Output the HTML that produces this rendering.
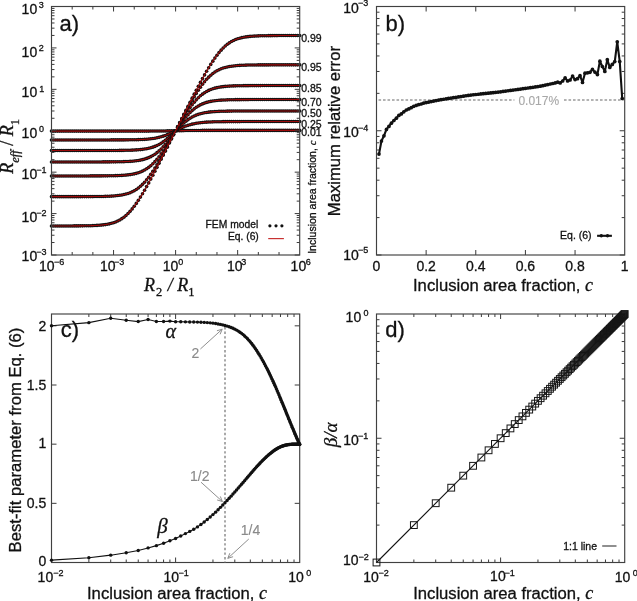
<!DOCTYPE html>
<html><head><meta charset="utf-8"><style>
html,body{margin:0;padding:0;background:#fff;width:637px;height:601px;overflow:hidden}
svg{will-change:transform}
text{stroke:#111;stroke-width:0.3px}
svg{display:block}
</style></head><body>
<svg width="637" height="601" viewBox="0 0 637 601">
<rect width="637" height="601" fill="#fff"/>
<g fill="#111">
<circle cx="51.50" cy="131.11" r="1.8"/>
<circle cx="53.57" cy="131.11" r="1.8"/>
<circle cx="55.64" cy="131.11" r="1.8"/>
<circle cx="57.70" cy="131.11" r="1.8"/>
<circle cx="59.77" cy="131.11" r="1.8"/>
<circle cx="61.84" cy="131.11" r="1.8"/>
<circle cx="63.91" cy="131.11" r="1.8"/>
<circle cx="65.98" cy="131.11" r="1.8"/>
<circle cx="68.05" cy="131.11" r="1.8"/>
<circle cx="70.12" cy="131.11" r="1.8"/>
<circle cx="72.18" cy="131.11" r="1.8"/>
<circle cx="74.25" cy="131.11" r="1.8"/>
<circle cx="76.32" cy="131.11" r="1.8"/>
<circle cx="78.39" cy="131.11" r="1.8"/>
<circle cx="80.46" cy="131.11" r="1.8"/>
<circle cx="82.53" cy="131.11" r="1.8"/>
<circle cx="84.59" cy="131.11" r="1.8"/>
<circle cx="86.66" cy="131.11" r="1.8"/>
<circle cx="88.73" cy="131.11" r="1.8"/>
<circle cx="90.80" cy="131.11" r="1.8"/>
<circle cx="92.87" cy="131.11" r="1.8"/>
<circle cx="94.94" cy="131.11" r="1.8"/>
<circle cx="97.00" cy="131.11" r="1.8"/>
<circle cx="99.07" cy="131.11" r="1.8"/>
<circle cx="101.14" cy="131.11" r="1.8"/>
<circle cx="103.21" cy="131.11" r="1.8"/>
<circle cx="105.28" cy="131.11" r="1.8"/>
<circle cx="107.34" cy="131.11" r="1.8"/>
<circle cx="109.41" cy="131.11" r="1.8"/>
<circle cx="111.48" cy="131.11" r="1.8"/>
<circle cx="113.55" cy="131.11" r="1.8"/>
<circle cx="115.62" cy="131.11" r="1.8"/>
<circle cx="117.69" cy="131.11" r="1.8"/>
<circle cx="119.75" cy="131.11" r="1.8"/>
<circle cx="121.82" cy="131.11" r="1.8"/>
<circle cx="123.89" cy="131.11" r="1.8"/>
<circle cx="125.96" cy="131.11" r="1.8"/>
<circle cx="128.03" cy="131.11" r="1.8"/>
<circle cx="130.10" cy="131.11" r="1.8"/>
<circle cx="132.16" cy="131.10" r="1.8"/>
<circle cx="134.23" cy="131.10" r="1.8"/>
<circle cx="136.30" cy="131.10" r="1.8"/>
<circle cx="138.37" cy="131.10" r="1.8"/>
<circle cx="140.44" cy="131.10" r="1.8"/>
<circle cx="142.51" cy="131.09" r="1.8"/>
<circle cx="144.57" cy="131.09" r="1.8"/>
<circle cx="146.64" cy="131.08" r="1.8"/>
<circle cx="148.71" cy="131.08" r="1.8"/>
<circle cx="150.78" cy="131.07" r="1.8"/>
<circle cx="152.85" cy="131.06" r="1.8"/>
<circle cx="154.92" cy="131.04" r="1.8"/>
<circle cx="156.99" cy="131.03" r="1.8"/>
<circle cx="159.05" cy="131.01" r="1.8"/>
<circle cx="161.12" cy="130.99" r="1.8"/>
<circle cx="163.19" cy="130.97" r="1.8"/>
<circle cx="165.26" cy="130.94" r="1.8"/>
<circle cx="167.33" cy="130.90" r="1.8"/>
<circle cx="169.39" cy="130.87" r="1.8"/>
<circle cx="171.46" cy="130.83" r="1.8"/>
<circle cx="173.53" cy="130.79" r="1.8"/>
<circle cx="175.60" cy="130.75" r="1.8"/>
<circle cx="177.67" cy="130.71" r="1.8"/>
<circle cx="179.74" cy="130.67" r="1.8"/>
<circle cx="181.81" cy="130.63" r="1.8"/>
<circle cx="183.87" cy="130.60" r="1.8"/>
<circle cx="185.94" cy="130.56" r="1.8"/>
<circle cx="188.01" cy="130.53" r="1.8"/>
<circle cx="190.08" cy="130.51" r="1.8"/>
<circle cx="192.15" cy="130.49" r="1.8"/>
<circle cx="194.22" cy="130.47" r="1.8"/>
<circle cx="196.28" cy="130.46" r="1.8"/>
<circle cx="198.35" cy="130.44" r="1.8"/>
<circle cx="200.42" cy="130.43" r="1.8"/>
<circle cx="202.49" cy="130.42" r="1.8"/>
<circle cx="204.56" cy="130.42" r="1.8"/>
<circle cx="206.62" cy="130.41" r="1.8"/>
<circle cx="208.69" cy="130.41" r="1.8"/>
<circle cx="210.76" cy="130.40" r="1.8"/>
<circle cx="212.83" cy="130.40" r="1.8"/>
<circle cx="214.90" cy="130.40" r="1.8"/>
<circle cx="216.97" cy="130.40" r="1.8"/>
<circle cx="219.03" cy="130.40" r="1.8"/>
<circle cx="221.10" cy="130.39" r="1.8"/>
<circle cx="223.17" cy="130.39" r="1.8"/>
<circle cx="225.24" cy="130.39" r="1.8"/>
<circle cx="227.31" cy="130.39" r="1.8"/>
<circle cx="229.38" cy="130.39" r="1.8"/>
<circle cx="231.45" cy="130.39" r="1.8"/>
<circle cx="233.51" cy="130.39" r="1.8"/>
<circle cx="235.58" cy="130.39" r="1.8"/>
<circle cx="237.65" cy="130.39" r="1.8"/>
<circle cx="239.72" cy="130.39" r="1.8"/>
<circle cx="241.79" cy="130.39" r="1.8"/>
<circle cx="243.85" cy="130.39" r="1.8"/>
<circle cx="245.92" cy="130.39" r="1.8"/>
<circle cx="247.99" cy="130.39" r="1.8"/>
<circle cx="250.06" cy="130.39" r="1.8"/>
<circle cx="252.13" cy="130.39" r="1.8"/>
<circle cx="254.20" cy="130.39" r="1.8"/>
<circle cx="256.26" cy="130.39" r="1.8"/>
<circle cx="258.33" cy="130.39" r="1.8"/>
<circle cx="260.40" cy="130.39" r="1.8"/>
<circle cx="262.47" cy="130.39" r="1.8"/>
<circle cx="264.54" cy="130.39" r="1.8"/>
<circle cx="266.61" cy="130.39" r="1.8"/>
<circle cx="268.67" cy="130.39" r="1.8"/>
<circle cx="270.74" cy="130.39" r="1.8"/>
<circle cx="272.81" cy="130.39" r="1.8"/>
<circle cx="274.88" cy="130.39" r="1.8"/>
<circle cx="276.95" cy="130.39" r="1.8"/>
<circle cx="279.02" cy="130.39" r="1.8"/>
<circle cx="281.09" cy="130.39" r="1.8"/>
<circle cx="283.15" cy="130.39" r="1.8"/>
<circle cx="285.22" cy="130.39" r="1.8"/>
<circle cx="287.29" cy="130.39" r="1.8"/>
<circle cx="289.36" cy="130.39" r="1.8"/>
<circle cx="291.43" cy="130.39" r="1.8"/>
<circle cx="293.50" cy="130.39" r="1.8"/>
<circle cx="295.56" cy="130.39" r="1.8"/>
<circle cx="297.63" cy="130.39" r="1.8"/>
<circle cx="299.70" cy="130.39" r="1.8"/>
</g>
<polyline points="51.50,131.11 52.02,131.11 52.53,131.11 53.05,131.11 53.57,131.11 54.09,131.11 54.60,131.11 55.12,131.11 55.64,131.11 56.15,131.11 56.67,131.11 57.19,131.11 57.70,131.11 58.22,131.11 58.74,131.11 59.26,131.11 59.77,131.11 60.29,131.11 60.81,131.11 61.32,131.11 61.84,131.11 62.36,131.11 62.88,131.11 63.39,131.11 63.91,131.11 64.43,131.11 64.94,131.11 65.46,131.11 65.98,131.11 66.50,131.11 67.01,131.11 67.53,131.11 68.05,131.11 68.56,131.11 69.08,131.11 69.60,131.11 70.12,131.11 70.63,131.11 71.15,131.11 71.67,131.11 72.18,131.11 72.70,131.11 73.22,131.11 73.73,131.11 74.25,131.11 74.77,131.11 75.29,131.11 75.80,131.11 76.32,131.11 76.84,131.11 77.35,131.11 77.87,131.11 78.39,131.11 78.91,131.11 79.42,131.11 79.94,131.11 80.46,131.11 80.97,131.11 81.49,131.11 82.01,131.11 82.53,131.11 83.04,131.11 83.56,131.11 84.08,131.11 84.59,131.11 85.11,131.11 85.63,131.11 86.14,131.11 86.66,131.11 87.18,131.11 87.70,131.11 88.21,131.11 88.73,131.11 89.25,131.11 89.76,131.11 90.28,131.11 90.80,131.11 91.32,131.11 91.83,131.11 92.35,131.11 92.87,131.11 93.38,131.11 93.90,131.11 94.42,131.11 94.94,131.11 95.45,131.11 95.97,131.11 96.49,131.11 97.00,131.11 97.52,131.11 98.04,131.11 98.55,131.11 99.07,131.11 99.59,131.11 100.11,131.11 100.62,131.11 101.14,131.11 101.66,131.11 102.17,131.11 102.69,131.11 103.21,131.11 103.73,131.11 104.24,131.11 104.76,131.11 105.28,131.11 105.79,131.11 106.31,131.11 106.83,131.11 107.34,131.11 107.86,131.11 108.38,131.11 108.90,131.11 109.41,131.11 109.93,131.11 110.45,131.11 110.96,131.11 111.48,131.11 112.00,131.11 112.52,131.11 113.03,131.11 113.55,131.11 114.07,131.11 114.58,131.11 115.10,131.11 115.62,131.11 116.14,131.11 116.65,131.11 117.17,131.11 117.69,131.11 118.20,131.11 118.72,131.11 119.24,131.11 119.75,131.11 120.27,131.11 120.79,131.11 121.31,131.11 121.82,131.11 122.34,131.11 122.86,131.11 123.37,131.11 123.89,131.11 124.41,131.11 124.93,131.11 125.44,131.11 125.96,131.11 126.48,131.11 126.99,131.11 127.51,131.11 128.03,131.11 128.55,131.11 129.06,131.11 129.58,131.11 130.10,131.11 130.61,131.10 131.13,131.10 131.65,131.10 132.16,131.10 132.68,131.10 133.20,131.10 133.72,131.10 134.23,131.10 134.75,131.10 135.27,131.10 135.78,131.10 136.30,131.10 136.82,131.10 137.34,131.10 137.85,131.10 138.37,131.10 138.89,131.10 139.40,131.10 139.92,131.10 140.44,131.10 140.96,131.09 141.47,131.09 141.99,131.09 142.51,131.09 143.02,131.09 143.54,131.09 144.06,131.09 144.57,131.09 145.09,131.09 145.61,131.09 146.13,131.08 146.64,131.08 147.16,131.08 147.68,131.08 148.19,131.08 148.71,131.08 149.23,131.07 149.75,131.07 150.26,131.07 150.78,131.07 151.30,131.06 151.81,131.06 152.33,131.06 152.85,131.06 153.37,131.05 153.88,131.05 154.40,131.05 154.92,131.04 155.43,131.04 155.95,131.04 156.47,131.03 156.99,131.03 157.50,131.03 158.02,131.02 158.54,131.02 159.05,131.01 159.57,131.01 160.09,131.00 160.60,131.00 161.12,130.99 161.64,130.98 162.16,130.98 162.67,130.97 163.19,130.97 163.71,130.96 164.22,130.95 164.74,130.94 165.26,130.94 165.78,130.93 166.29,130.92 166.81,130.91 167.33,130.90 167.84,130.90 168.36,130.89 168.88,130.88 169.39,130.87 169.91,130.86 170.43,130.85 170.95,130.84 171.46,130.83 171.98,130.82 172.50,130.81 173.01,130.80 173.53,130.79 174.05,130.78 174.57,130.77 175.08,130.76 175.60,130.75 176.12,130.74 176.63,130.73 177.15,130.72 177.67,130.71 178.19,130.70 178.70,130.69 179.22,130.68 179.74,130.67 180.25,130.66 180.77,130.65 181.29,130.64 181.81,130.63 182.32,130.62 182.84,130.61 183.36,130.60 183.87,130.60 184.39,130.59 184.91,130.58 185.42,130.57 185.94,130.56 186.46,130.56 186.98,130.55 187.49,130.54 188.01,130.53 188.53,130.53 189.04,130.52 189.56,130.52 190.08,130.51 190.60,130.50 191.11,130.50 191.63,130.49 192.15,130.49 192.66,130.48 193.18,130.48 193.70,130.47 194.22,130.47 194.73,130.47 195.25,130.46 195.77,130.46 196.28,130.46 196.80,130.45 197.32,130.45 197.83,130.45 198.35,130.44 198.87,130.44 199.39,130.44 199.90,130.44 200.42,130.43 200.94,130.43 201.45,130.43 201.97,130.43 202.49,130.42 203.01,130.42 203.52,130.42 204.04,130.42 204.56,130.42 205.07,130.42 205.59,130.41 206.11,130.41 206.62,130.41 207.14,130.41 207.66,130.41 208.18,130.41 208.69,130.41 209.21,130.41 209.73,130.41 210.24,130.41 210.76,130.40 211.28,130.40 211.80,130.40 212.31,130.40 212.83,130.40 213.35,130.40 213.86,130.40 214.38,130.40 214.90,130.40 215.42,130.40 215.93,130.40 216.45,130.40 216.97,130.40 217.48,130.40 218.00,130.40 218.52,130.40 219.03,130.40 219.55,130.40 220.07,130.40 220.59,130.40 221.10,130.39 221.62,130.39 222.14,130.39 222.65,130.39 223.17,130.39 223.69,130.39 224.21,130.39 224.72,130.39 225.24,130.39 225.76,130.39 226.27,130.39 226.79,130.39 227.31,130.39 227.83,130.39 228.34,130.39 228.86,130.39 229.38,130.39 229.89,130.39 230.41,130.39 230.93,130.39 231.45,130.39 231.96,130.39 232.48,130.39 233.00,130.39 233.51,130.39 234.03,130.39 234.55,130.39 235.06,130.39 235.58,130.39 236.10,130.39 236.62,130.39 237.13,130.39 237.65,130.39 238.17,130.39 238.68,130.39 239.20,130.39 239.72,130.39 240.24,130.39 240.75,130.39 241.27,130.39 241.79,130.39 242.30,130.39 242.82,130.39 243.34,130.39 243.85,130.39 244.37,130.39 244.89,130.39 245.41,130.39 245.92,130.39 246.44,130.39 246.96,130.39 247.47,130.39 247.99,130.39 248.51,130.39 249.03,130.39 249.54,130.39 250.06,130.39 250.58,130.39 251.09,130.39 251.61,130.39 252.13,130.39 252.65,130.39 253.16,130.39 253.68,130.39 254.20,130.39 254.71,130.39 255.23,130.39 255.75,130.39 256.26,130.39 256.78,130.39 257.30,130.39 257.82,130.39 258.33,130.39 258.85,130.39 259.37,130.39 259.88,130.39 260.40,130.39 260.92,130.39 261.44,130.39 261.95,130.39 262.47,130.39 262.99,130.39 263.50,130.39 264.02,130.39 264.54,130.39 265.06,130.39 265.57,130.39 266.09,130.39 266.61,130.39 267.12,130.39 267.64,130.39 268.16,130.39 268.67,130.39 269.19,130.39 269.71,130.39 270.23,130.39 270.74,130.39 271.26,130.39 271.78,130.39 272.29,130.39 272.81,130.39 273.33,130.39 273.85,130.39 274.36,130.39 274.88,130.39 275.40,130.39 275.91,130.39 276.43,130.39 276.95,130.39 277.47,130.39 277.98,130.39 278.50,130.39 279.02,130.39 279.53,130.39 280.05,130.39 280.57,130.39 281.09,130.39 281.60,130.39 282.12,130.39 282.64,130.39 283.15,130.39 283.67,130.39 284.19,130.39 284.70,130.39 285.22,130.39 285.74,130.39 286.26,130.39 286.77,130.39 287.29,130.39 287.81,130.39 288.32,130.39 288.84,130.39 289.36,130.39 289.88,130.39 290.39,130.39 290.91,130.39 291.43,130.39 291.94,130.39 292.46,130.39 292.98,130.39 293.50,130.39 294.01,130.39 294.53,130.39 295.05,130.39 295.56,130.39 296.08,130.39 296.60,130.39 297.11,130.39 297.63,130.39 298.15,130.39 298.67,130.39 299.18,130.39 299.70,130.39" fill="none" stroke="#9c0a0a" stroke-width="1.1"/>
<g fill="#111">
<circle cx="51.50" cy="139.94" r="1.8"/>
<circle cx="53.57" cy="139.94" r="1.8"/>
<circle cx="55.64" cy="139.94" r="1.8"/>
<circle cx="57.70" cy="139.94" r="1.8"/>
<circle cx="59.77" cy="139.94" r="1.8"/>
<circle cx="61.84" cy="139.94" r="1.8"/>
<circle cx="63.91" cy="139.94" r="1.8"/>
<circle cx="65.98" cy="139.94" r="1.8"/>
<circle cx="68.05" cy="139.94" r="1.8"/>
<circle cx="70.12" cy="139.94" r="1.8"/>
<circle cx="72.18" cy="139.94" r="1.8"/>
<circle cx="74.25" cy="139.94" r="1.8"/>
<circle cx="76.32" cy="139.94" r="1.8"/>
<circle cx="78.39" cy="139.94" r="1.8"/>
<circle cx="80.46" cy="139.94" r="1.8"/>
<circle cx="82.53" cy="139.94" r="1.8"/>
<circle cx="84.59" cy="139.94" r="1.8"/>
<circle cx="86.66" cy="139.94" r="1.8"/>
<circle cx="88.73" cy="139.94" r="1.8"/>
<circle cx="90.80" cy="139.94" r="1.8"/>
<circle cx="92.87" cy="139.94" r="1.8"/>
<circle cx="94.94" cy="139.94" r="1.8"/>
<circle cx="97.00" cy="139.94" r="1.8"/>
<circle cx="99.07" cy="139.93" r="1.8"/>
<circle cx="101.14" cy="139.93" r="1.8"/>
<circle cx="103.21" cy="139.93" r="1.8"/>
<circle cx="105.28" cy="139.93" r="1.8"/>
<circle cx="107.34" cy="139.93" r="1.8"/>
<circle cx="109.41" cy="139.93" r="1.8"/>
<circle cx="111.48" cy="139.92" r="1.8"/>
<circle cx="113.55" cy="139.92" r="1.8"/>
<circle cx="115.62" cy="139.91" r="1.8"/>
<circle cx="117.69" cy="139.91" r="1.8"/>
<circle cx="119.75" cy="139.90" r="1.8"/>
<circle cx="121.82" cy="139.89" r="1.8"/>
<circle cx="123.89" cy="139.88" r="1.8"/>
<circle cx="125.96" cy="139.86" r="1.8"/>
<circle cx="128.03" cy="139.84" r="1.8"/>
<circle cx="130.10" cy="139.82" r="1.8"/>
<circle cx="132.16" cy="139.79" r="1.8"/>
<circle cx="134.23" cy="139.75" r="1.8"/>
<circle cx="136.30" cy="139.70" r="1.8"/>
<circle cx="138.37" cy="139.64" r="1.8"/>
<circle cx="140.44" cy="139.56" r="1.8"/>
<circle cx="142.51" cy="139.47" r="1.8"/>
<circle cx="144.57" cy="139.35" r="1.8"/>
<circle cx="146.64" cy="139.21" r="1.8"/>
<circle cx="148.71" cy="139.03" r="1.8"/>
<circle cx="150.78" cy="138.81" r="1.8"/>
<circle cx="152.85" cy="138.54" r="1.8"/>
<circle cx="154.92" cy="138.21" r="1.8"/>
<circle cx="156.99" cy="137.82" r="1.8"/>
<circle cx="159.05" cy="137.36" r="1.8"/>
<circle cx="161.12" cy="136.81" r="1.8"/>
<circle cx="163.19" cy="136.17" r="1.8"/>
<circle cx="165.26" cy="135.45" r="1.8"/>
<circle cx="167.33" cy="134.64" r="1.8"/>
<circle cx="169.39" cy="133.75" r="1.8"/>
<circle cx="171.46" cy="132.79" r="1.8"/>
<circle cx="173.53" cy="131.78" r="1.8"/>
<circle cx="175.60" cy="130.75" r="1.8"/>
<circle cx="177.67" cy="129.72" r="1.8"/>
<circle cx="179.74" cy="128.71" r="1.8"/>
<circle cx="181.81" cy="127.75" r="1.8"/>
<circle cx="183.87" cy="126.86" r="1.8"/>
<circle cx="185.94" cy="126.05" r="1.8"/>
<circle cx="188.01" cy="125.33" r="1.8"/>
<circle cx="190.08" cy="124.69" r="1.8"/>
<circle cx="192.15" cy="124.14" r="1.8"/>
<circle cx="194.22" cy="123.68" r="1.8"/>
<circle cx="196.28" cy="123.29" r="1.8"/>
<circle cx="198.35" cy="122.96" r="1.8"/>
<circle cx="200.42" cy="122.69" r="1.8"/>
<circle cx="202.49" cy="122.47" r="1.8"/>
<circle cx="204.56" cy="122.29" r="1.8"/>
<circle cx="206.62" cy="122.15" r="1.8"/>
<circle cx="208.69" cy="122.03" r="1.8"/>
<circle cx="210.76" cy="121.94" r="1.8"/>
<circle cx="212.83" cy="121.86" r="1.8"/>
<circle cx="214.90" cy="121.80" r="1.8"/>
<circle cx="216.97" cy="121.75" r="1.8"/>
<circle cx="219.03" cy="121.71" r="1.8"/>
<circle cx="221.10" cy="121.68" r="1.8"/>
<circle cx="223.17" cy="121.66" r="1.8"/>
<circle cx="225.24" cy="121.64" r="1.8"/>
<circle cx="227.31" cy="121.62" r="1.8"/>
<circle cx="229.38" cy="121.61" r="1.8"/>
<circle cx="231.45" cy="121.60" r="1.8"/>
<circle cx="233.51" cy="121.59" r="1.8"/>
<circle cx="235.58" cy="121.59" r="1.8"/>
<circle cx="237.65" cy="121.58" r="1.8"/>
<circle cx="239.72" cy="121.58" r="1.8"/>
<circle cx="241.79" cy="121.57" r="1.8"/>
<circle cx="243.85" cy="121.57" r="1.8"/>
<circle cx="245.92" cy="121.57" r="1.8"/>
<circle cx="247.99" cy="121.57" r="1.8"/>
<circle cx="250.06" cy="121.57" r="1.8"/>
<circle cx="252.13" cy="121.57" r="1.8"/>
<circle cx="254.20" cy="121.56" r="1.8"/>
<circle cx="256.26" cy="121.56" r="1.8"/>
<circle cx="258.33" cy="121.56" r="1.8"/>
<circle cx="260.40" cy="121.56" r="1.8"/>
<circle cx="262.47" cy="121.56" r="1.8"/>
<circle cx="264.54" cy="121.56" r="1.8"/>
<circle cx="266.61" cy="121.56" r="1.8"/>
<circle cx="268.67" cy="121.56" r="1.8"/>
<circle cx="270.74" cy="121.56" r="1.8"/>
<circle cx="272.81" cy="121.56" r="1.8"/>
<circle cx="274.88" cy="121.56" r="1.8"/>
<circle cx="276.95" cy="121.56" r="1.8"/>
<circle cx="279.02" cy="121.56" r="1.8"/>
<circle cx="281.09" cy="121.56" r="1.8"/>
<circle cx="283.15" cy="121.56" r="1.8"/>
<circle cx="285.22" cy="121.56" r="1.8"/>
<circle cx="287.29" cy="121.56" r="1.8"/>
<circle cx="289.36" cy="121.56" r="1.8"/>
<circle cx="291.43" cy="121.56" r="1.8"/>
<circle cx="293.50" cy="121.56" r="1.8"/>
<circle cx="295.56" cy="121.56" r="1.8"/>
<circle cx="297.63" cy="121.56" r="1.8"/>
<circle cx="299.70" cy="121.56" r="1.8"/>
</g>
<polyline points="51.50,139.94 52.02,139.94 52.53,139.94 53.05,139.94 53.57,139.94 54.09,139.94 54.60,139.94 55.12,139.94 55.64,139.94 56.15,139.94 56.67,139.94 57.19,139.94 57.70,139.94 58.22,139.94 58.74,139.94 59.26,139.94 59.77,139.94 60.29,139.94 60.81,139.94 61.32,139.94 61.84,139.94 62.36,139.94 62.88,139.94 63.39,139.94 63.91,139.94 64.43,139.94 64.94,139.94 65.46,139.94 65.98,139.94 66.50,139.94 67.01,139.94 67.53,139.94 68.05,139.94 68.56,139.94 69.08,139.94 69.60,139.94 70.12,139.94 70.63,139.94 71.15,139.94 71.67,139.94 72.18,139.94 72.70,139.94 73.22,139.94 73.73,139.94 74.25,139.94 74.77,139.94 75.29,139.94 75.80,139.94 76.32,139.94 76.84,139.94 77.35,139.94 77.87,139.94 78.39,139.94 78.91,139.94 79.42,139.94 79.94,139.94 80.46,139.94 80.97,139.94 81.49,139.94 82.01,139.94 82.53,139.94 83.04,139.94 83.56,139.94 84.08,139.94 84.59,139.94 85.11,139.94 85.63,139.94 86.14,139.94 86.66,139.94 87.18,139.94 87.70,139.94 88.21,139.94 88.73,139.94 89.25,139.94 89.76,139.94 90.28,139.94 90.80,139.94 91.32,139.94 91.83,139.94 92.35,139.94 92.87,139.94 93.38,139.94 93.90,139.94 94.42,139.94 94.94,139.94 95.45,139.94 95.97,139.94 96.49,139.94 97.00,139.94 97.52,139.94 98.04,139.93 98.55,139.93 99.07,139.93 99.59,139.93 100.11,139.93 100.62,139.93 101.14,139.93 101.66,139.93 102.17,139.93 102.69,139.93 103.21,139.93 103.73,139.93 104.24,139.93 104.76,139.93 105.28,139.93 105.79,139.93 106.31,139.93 106.83,139.93 107.34,139.93 107.86,139.93 108.38,139.93 108.90,139.93 109.41,139.93 109.93,139.93 110.45,139.92 110.96,139.92 111.48,139.92 112.00,139.92 112.52,139.92 113.03,139.92 113.55,139.92 114.07,139.92 114.58,139.92 115.10,139.92 115.62,139.91 116.14,139.91 116.65,139.91 117.17,139.91 117.69,139.91 118.20,139.91 118.72,139.90 119.24,139.90 119.75,139.90 120.27,139.90 120.79,139.90 121.31,139.89 121.82,139.89 122.34,139.89 122.86,139.88 123.37,139.88 123.89,139.88 124.41,139.87 124.93,139.87 125.44,139.87 125.96,139.86 126.48,139.86 126.99,139.85 127.51,139.85 128.03,139.84 128.55,139.84 129.06,139.83 129.58,139.82 130.10,139.82 130.61,139.81 131.13,139.80 131.65,139.80 132.16,139.79 132.68,139.78 133.20,139.77 133.72,139.76 134.23,139.75 134.75,139.74 135.27,139.73 135.78,139.71 136.30,139.70 136.82,139.69 137.34,139.67 137.85,139.66 138.37,139.64 138.89,139.62 139.40,139.60 139.92,139.58 140.44,139.56 140.96,139.54 141.47,139.52 141.99,139.50 142.51,139.47 143.02,139.44 143.54,139.41 144.06,139.38 144.57,139.35 145.09,139.32 145.61,139.28 146.13,139.25 146.64,139.21 147.16,139.17 147.68,139.12 148.19,139.08 148.71,139.03 149.23,138.98 149.75,138.92 150.26,138.87 150.78,138.81 151.30,138.75 151.81,138.68 152.33,138.61 152.85,138.54 153.37,138.46 153.88,138.38 154.40,138.30 154.92,138.21 155.43,138.12 155.95,138.03 156.47,137.93 156.99,137.82 157.50,137.71 158.02,137.60 158.54,137.48 159.05,137.36 159.57,137.23 160.09,137.09 160.60,136.95 161.12,136.81 161.64,136.66 162.16,136.50 162.67,136.34 163.19,136.17 163.71,136.00 164.22,135.82 164.74,135.64 165.26,135.45 165.78,135.25 166.29,135.05 166.81,134.85 167.33,134.64 167.84,134.42 168.36,134.20 168.88,133.97 169.39,133.75 169.91,133.51 170.43,133.27 170.95,133.03 171.46,132.79 171.98,132.54 172.50,132.29 173.01,132.04 173.53,131.78 174.05,131.52 174.57,131.27 175.08,131.01 175.60,130.75 176.12,130.49 176.63,130.23 177.15,129.98 177.67,129.72 178.19,129.46 178.70,129.21 179.22,128.96 179.74,128.71 180.25,128.47 180.77,128.23 181.29,127.99 181.81,127.75 182.32,127.53 182.84,127.30 183.36,127.08 183.87,126.86 184.39,126.65 184.91,126.45 185.42,126.25 185.94,126.05 186.46,125.86 186.98,125.68 187.49,125.50 188.01,125.33 188.53,125.16 189.04,125.00 189.56,124.84 190.08,124.69 190.60,124.55 191.11,124.41 191.63,124.27 192.15,124.14 192.66,124.02 193.18,123.90 193.70,123.79 194.22,123.68 194.73,123.57 195.25,123.47 195.77,123.38 196.28,123.29 196.80,123.20 197.32,123.12 197.83,123.04 198.35,122.96 198.87,122.89 199.39,122.82 199.90,122.75 200.42,122.69 200.94,122.63 201.45,122.58 201.97,122.52 202.49,122.47 203.01,122.42 203.52,122.38 204.04,122.33 204.56,122.29 205.07,122.25 205.59,122.22 206.11,122.18 206.62,122.15 207.14,122.12 207.66,122.09 208.18,122.06 208.69,122.03 209.21,122.00 209.73,121.98 210.24,121.96 210.76,121.94 211.28,121.92 211.80,121.90 212.31,121.88 212.83,121.86 213.35,121.84 213.86,121.83 214.38,121.81 214.90,121.80 215.42,121.79 215.93,121.77 216.45,121.76 216.97,121.75 217.48,121.74 218.00,121.73 218.52,121.72 219.03,121.71 219.55,121.70 220.07,121.70 220.59,121.69 221.10,121.68 221.62,121.68 222.14,121.67 222.65,121.66 223.17,121.66 223.69,121.65 224.21,121.65 224.72,121.64 225.24,121.64 225.76,121.63 226.27,121.63 226.79,121.63 227.31,121.62 227.83,121.62 228.34,121.62 228.86,121.61 229.38,121.61 229.89,121.61 230.41,121.60 230.93,121.60 231.45,121.60 231.96,121.60 232.48,121.60 233.00,121.59 233.51,121.59 234.03,121.59 234.55,121.59 235.06,121.59 235.58,121.59 236.10,121.58 236.62,121.58 237.13,121.58 237.65,121.58 238.17,121.58 238.68,121.58 239.20,121.58 239.72,121.58 240.24,121.58 240.75,121.58 241.27,121.57 241.79,121.57 242.30,121.57 242.82,121.57 243.34,121.57 243.85,121.57 244.37,121.57 244.89,121.57 245.41,121.57 245.92,121.57 246.44,121.57 246.96,121.57 247.47,121.57 247.99,121.57 248.51,121.57 249.03,121.57 249.54,121.57 250.06,121.57 250.58,121.57 251.09,121.57 251.61,121.57 252.13,121.57 252.65,121.57 253.16,121.57 253.68,121.56 254.20,121.56 254.71,121.56 255.23,121.56 255.75,121.56 256.26,121.56 256.78,121.56 257.30,121.56 257.82,121.56 258.33,121.56 258.85,121.56 259.37,121.56 259.88,121.56 260.40,121.56 260.92,121.56 261.44,121.56 261.95,121.56 262.47,121.56 262.99,121.56 263.50,121.56 264.02,121.56 264.54,121.56 265.06,121.56 265.57,121.56 266.09,121.56 266.61,121.56 267.12,121.56 267.64,121.56 268.16,121.56 268.67,121.56 269.19,121.56 269.71,121.56 270.23,121.56 270.74,121.56 271.26,121.56 271.78,121.56 272.29,121.56 272.81,121.56 273.33,121.56 273.85,121.56 274.36,121.56 274.88,121.56 275.40,121.56 275.91,121.56 276.43,121.56 276.95,121.56 277.47,121.56 277.98,121.56 278.50,121.56 279.02,121.56 279.53,121.56 280.05,121.56 280.57,121.56 281.09,121.56 281.60,121.56 282.12,121.56 282.64,121.56 283.15,121.56 283.67,121.56 284.19,121.56 284.70,121.56 285.22,121.56 285.74,121.56 286.26,121.56 286.77,121.56 287.29,121.56 287.81,121.56 288.32,121.56 288.84,121.56 289.36,121.56 289.88,121.56 290.39,121.56 290.91,121.56 291.43,121.56 291.94,121.56 292.46,121.56 292.98,121.56 293.50,121.56 294.01,121.56 294.53,121.56 295.05,121.56 295.56,121.56 296.08,121.56 296.60,121.56 297.11,121.56 297.63,121.56 298.15,121.56 298.67,121.56 299.18,121.56 299.70,121.56" fill="none" stroke="#9c0a0a" stroke-width="1.1"/>
<g fill="#111">
<circle cx="51.50" cy="150.51" r="1.8"/>
<circle cx="53.57" cy="150.51" r="1.8"/>
<circle cx="55.64" cy="150.51" r="1.8"/>
<circle cx="57.70" cy="150.51" r="1.8"/>
<circle cx="59.77" cy="150.51" r="1.8"/>
<circle cx="61.84" cy="150.51" r="1.8"/>
<circle cx="63.91" cy="150.51" r="1.8"/>
<circle cx="65.98" cy="150.51" r="1.8"/>
<circle cx="68.05" cy="150.51" r="1.8"/>
<circle cx="70.12" cy="150.51" r="1.8"/>
<circle cx="72.18" cy="150.51" r="1.8"/>
<circle cx="74.25" cy="150.51" r="1.8"/>
<circle cx="76.32" cy="150.51" r="1.8"/>
<circle cx="78.39" cy="150.51" r="1.8"/>
<circle cx="80.46" cy="150.51" r="1.8"/>
<circle cx="82.53" cy="150.51" r="1.8"/>
<circle cx="84.59" cy="150.51" r="1.8"/>
<circle cx="86.66" cy="150.51" r="1.8"/>
<circle cx="88.73" cy="150.51" r="1.8"/>
<circle cx="90.80" cy="150.51" r="1.8"/>
<circle cx="92.87" cy="150.51" r="1.8"/>
<circle cx="94.94" cy="150.50" r="1.8"/>
<circle cx="97.00" cy="150.50" r="1.8"/>
<circle cx="99.07" cy="150.50" r="1.8"/>
<circle cx="101.14" cy="150.50" r="1.8"/>
<circle cx="103.21" cy="150.50" r="1.8"/>
<circle cx="105.28" cy="150.49" r="1.8"/>
<circle cx="107.34" cy="150.49" r="1.8"/>
<circle cx="109.41" cy="150.48" r="1.8"/>
<circle cx="111.48" cy="150.47" r="1.8"/>
<circle cx="113.55" cy="150.46" r="1.8"/>
<circle cx="115.62" cy="150.45" r="1.8"/>
<circle cx="117.69" cy="150.43" r="1.8"/>
<circle cx="119.75" cy="150.42" r="1.8"/>
<circle cx="121.82" cy="150.39" r="1.8"/>
<circle cx="123.89" cy="150.36" r="1.8"/>
<circle cx="125.96" cy="150.32" r="1.8"/>
<circle cx="128.03" cy="150.27" r="1.8"/>
<circle cx="130.10" cy="150.21" r="1.8"/>
<circle cx="132.16" cy="150.13" r="1.8"/>
<circle cx="134.23" cy="150.04" r="1.8"/>
<circle cx="136.30" cy="149.92" r="1.8"/>
<circle cx="138.37" cy="149.77" r="1.8"/>
<circle cx="140.44" cy="149.58" r="1.8"/>
<circle cx="142.51" cy="149.35" r="1.8"/>
<circle cx="144.57" cy="149.07" r="1.8"/>
<circle cx="146.64" cy="148.72" r="1.8"/>
<circle cx="148.71" cy="148.29" r="1.8"/>
<circle cx="150.78" cy="147.77" r="1.8"/>
<circle cx="152.85" cy="147.14" r="1.8"/>
<circle cx="154.92" cy="146.38" r="1.8"/>
<circle cx="156.99" cy="145.49" r="1.8"/>
<circle cx="159.05" cy="144.44" r="1.8"/>
<circle cx="161.12" cy="143.23" r="1.8"/>
<circle cx="163.19" cy="141.85" r="1.8"/>
<circle cx="165.26" cy="140.31" r="1.8"/>
<circle cx="167.33" cy="138.62" r="1.8"/>
<circle cx="169.39" cy="136.78" r="1.8"/>
<circle cx="171.46" cy="134.84" r="1.8"/>
<circle cx="173.53" cy="132.81" r="1.8"/>
<circle cx="175.60" cy="130.75" r="1.8"/>
<circle cx="177.67" cy="128.69" r="1.8"/>
<circle cx="179.74" cy="126.66" r="1.8"/>
<circle cx="181.81" cy="124.72" r="1.8"/>
<circle cx="183.87" cy="122.88" r="1.8"/>
<circle cx="185.94" cy="121.19" r="1.8"/>
<circle cx="188.01" cy="119.65" r="1.8"/>
<circle cx="190.08" cy="118.27" r="1.8"/>
<circle cx="192.15" cy="117.06" r="1.8"/>
<circle cx="194.22" cy="116.01" r="1.8"/>
<circle cx="196.28" cy="115.12" r="1.8"/>
<circle cx="198.35" cy="114.36" r="1.8"/>
<circle cx="200.42" cy="113.73" r="1.8"/>
<circle cx="202.49" cy="113.21" r="1.8"/>
<circle cx="204.56" cy="112.78" r="1.8"/>
<circle cx="206.62" cy="112.43" r="1.8"/>
<circle cx="208.69" cy="112.15" r="1.8"/>
<circle cx="210.76" cy="111.92" r="1.8"/>
<circle cx="212.83" cy="111.73" r="1.8"/>
<circle cx="214.90" cy="111.58" r="1.8"/>
<circle cx="216.97" cy="111.46" r="1.8"/>
<circle cx="219.03" cy="111.37" r="1.8"/>
<circle cx="221.10" cy="111.29" r="1.8"/>
<circle cx="223.17" cy="111.23" r="1.8"/>
<circle cx="225.24" cy="111.18" r="1.8"/>
<circle cx="227.31" cy="111.14" r="1.8"/>
<circle cx="229.38" cy="111.11" r="1.8"/>
<circle cx="231.45" cy="111.08" r="1.8"/>
<circle cx="233.51" cy="111.07" r="1.8"/>
<circle cx="235.58" cy="111.05" r="1.8"/>
<circle cx="237.65" cy="111.04" r="1.8"/>
<circle cx="239.72" cy="111.03" r="1.8"/>
<circle cx="241.79" cy="111.02" r="1.8"/>
<circle cx="243.85" cy="111.01" r="1.8"/>
<circle cx="245.92" cy="111.01" r="1.8"/>
<circle cx="247.99" cy="111.00" r="1.8"/>
<circle cx="250.06" cy="111.00" r="1.8"/>
<circle cx="252.13" cy="111.00" r="1.8"/>
<circle cx="254.20" cy="111.00" r="1.8"/>
<circle cx="256.26" cy="111.00" r="1.8"/>
<circle cx="258.33" cy="110.99" r="1.8"/>
<circle cx="260.40" cy="110.99" r="1.8"/>
<circle cx="262.47" cy="110.99" r="1.8"/>
<circle cx="264.54" cy="110.99" r="1.8"/>
<circle cx="266.61" cy="110.99" r="1.8"/>
<circle cx="268.67" cy="110.99" r="1.8"/>
<circle cx="270.74" cy="110.99" r="1.8"/>
<circle cx="272.81" cy="110.99" r="1.8"/>
<circle cx="274.88" cy="110.99" r="1.8"/>
<circle cx="276.95" cy="110.99" r="1.8"/>
<circle cx="279.02" cy="110.99" r="1.8"/>
<circle cx="281.09" cy="110.99" r="1.8"/>
<circle cx="283.15" cy="110.99" r="1.8"/>
<circle cx="285.22" cy="110.99" r="1.8"/>
<circle cx="287.29" cy="110.99" r="1.8"/>
<circle cx="289.36" cy="110.99" r="1.8"/>
<circle cx="291.43" cy="110.99" r="1.8"/>
<circle cx="293.50" cy="110.99" r="1.8"/>
<circle cx="295.56" cy="110.99" r="1.8"/>
<circle cx="297.63" cy="110.99" r="1.8"/>
<circle cx="299.70" cy="110.99" r="1.8"/>
</g>
<polyline points="51.50,150.51 52.02,150.51 52.53,150.51 53.05,150.51 53.57,150.51 54.09,150.51 54.60,150.51 55.12,150.51 55.64,150.51 56.15,150.51 56.67,150.51 57.19,150.51 57.70,150.51 58.22,150.51 58.74,150.51 59.26,150.51 59.77,150.51 60.29,150.51 60.81,150.51 61.32,150.51 61.84,150.51 62.36,150.51 62.88,150.51 63.39,150.51 63.91,150.51 64.43,150.51 64.94,150.51 65.46,150.51 65.98,150.51 66.50,150.51 67.01,150.51 67.53,150.51 68.05,150.51 68.56,150.51 69.08,150.51 69.60,150.51 70.12,150.51 70.63,150.51 71.15,150.51 71.67,150.51 72.18,150.51 72.70,150.51 73.22,150.51 73.73,150.51 74.25,150.51 74.77,150.51 75.29,150.51 75.80,150.51 76.32,150.51 76.84,150.51 77.35,150.51 77.87,150.51 78.39,150.51 78.91,150.51 79.42,150.51 79.94,150.51 80.46,150.51 80.97,150.51 81.49,150.51 82.01,150.51 82.53,150.51 83.04,150.51 83.56,150.51 84.08,150.51 84.59,150.51 85.11,150.51 85.63,150.51 86.14,150.51 86.66,150.51 87.18,150.51 87.70,150.51 88.21,150.51 88.73,150.51 89.25,150.51 89.76,150.51 90.28,150.51 90.80,150.51 91.32,150.51 91.83,150.51 92.35,150.51 92.87,150.51 93.38,150.51 93.90,150.51 94.42,150.51 94.94,150.50 95.45,150.50 95.97,150.50 96.49,150.50 97.00,150.50 97.52,150.50 98.04,150.50 98.55,150.50 99.07,150.50 99.59,150.50 100.11,150.50 100.62,150.50 101.14,150.50 101.66,150.50 102.17,150.50 102.69,150.50 103.21,150.50 103.73,150.49 104.24,150.49 104.76,150.49 105.28,150.49 105.79,150.49 106.31,150.49 106.83,150.49 107.34,150.49 107.86,150.49 108.38,150.48 108.90,150.48 109.41,150.48 109.93,150.48 110.45,150.48 110.96,150.47 111.48,150.47 112.00,150.47 112.52,150.47 113.03,150.47 113.55,150.46 114.07,150.46 114.58,150.46 115.10,150.45 115.62,150.45 116.14,150.45 116.65,150.44 117.17,150.44 117.69,150.43 118.20,150.43 118.72,150.43 119.24,150.42 119.75,150.42 120.27,150.41 120.79,150.40 121.31,150.40 121.82,150.39 122.34,150.38 122.86,150.38 123.37,150.37 123.89,150.36 124.41,150.35 124.93,150.34 125.44,150.33 125.96,150.32 126.48,150.31 126.99,150.30 127.51,150.29 128.03,150.27 128.55,150.26 129.06,150.24 129.58,150.23 130.10,150.21 130.61,150.19 131.13,150.18 131.65,150.16 132.16,150.13 132.68,150.11 133.20,150.09 133.72,150.06 134.23,150.04 134.75,150.01 135.27,149.98 135.78,149.95 136.30,149.92 136.82,149.88 137.34,149.85 137.85,149.81 138.37,149.77 138.89,149.73 139.40,149.68 139.92,149.63 140.44,149.58 140.96,149.53 141.47,149.48 141.99,149.42 142.51,149.35 143.02,149.29 143.54,149.22 144.06,149.15 144.57,149.07 145.09,148.99 145.61,148.90 146.13,148.81 146.64,148.72 147.16,148.62 147.68,148.51 148.19,148.40 148.71,148.29 149.23,148.17 149.75,148.04 150.26,147.91 150.78,147.77 151.30,147.62 151.81,147.47 152.33,147.31 152.85,147.14 153.37,146.96 153.88,146.78 154.40,146.58 154.92,146.38 155.43,146.17 155.95,145.95 156.47,145.72 156.99,145.49 157.50,145.24 158.02,144.98 158.54,144.72 159.05,144.44 159.57,144.15 160.09,143.86 160.60,143.55 161.12,143.23 161.64,142.90 162.16,142.56 162.67,142.21 163.19,141.85 163.71,141.48 164.22,141.10 164.74,140.71 165.26,140.31 165.78,139.90 166.29,139.48 166.81,139.05 167.33,138.62 167.84,138.17 168.36,137.72 168.88,137.25 169.39,136.78 169.91,136.31 170.43,135.82 170.95,135.33 171.46,134.84 171.98,134.34 172.50,133.83 173.01,133.33 173.53,132.81 174.05,132.30 174.57,131.78 175.08,131.27 175.60,130.75 176.12,130.23 176.63,129.72 177.15,129.20 177.67,128.69 178.19,128.17 178.70,127.67 179.22,127.16 179.74,126.66 180.25,126.17 180.77,125.68 181.29,125.19 181.81,124.72 182.32,124.25 182.84,123.78 183.36,123.33 183.87,122.88 184.39,122.45 184.91,122.02 185.42,121.60 185.94,121.19 186.46,120.79 186.98,120.40 187.49,120.02 188.01,119.65 188.53,119.29 189.04,118.94 189.56,118.60 190.08,118.27 190.60,117.95 191.11,117.64 191.63,117.35 192.15,117.06 192.66,116.78 193.18,116.52 193.70,116.26 194.22,116.01 194.73,115.78 195.25,115.55 195.77,115.33 196.28,115.12 196.80,114.92 197.32,114.72 197.83,114.54 198.35,114.36 198.87,114.19 199.39,114.03 199.90,113.88 200.42,113.73 200.94,113.59 201.45,113.46 201.97,113.33 202.49,113.21 203.01,113.10 203.52,112.99 204.04,112.88 204.56,112.78 205.07,112.69 205.59,112.60 206.11,112.51 206.62,112.43 207.14,112.35 207.66,112.28 208.18,112.21 208.69,112.15 209.21,112.08 209.73,112.02 210.24,111.97 210.76,111.92 211.28,111.87 211.80,111.82 212.31,111.77 212.83,111.73 213.35,111.69 213.86,111.65 214.38,111.62 214.90,111.58 215.42,111.55 215.93,111.52 216.45,111.49 216.97,111.46 217.48,111.44 218.00,111.41 218.52,111.39 219.03,111.37 219.55,111.34 220.07,111.32 220.59,111.31 221.10,111.29 221.62,111.27 222.14,111.26 222.65,111.24 223.17,111.23 223.69,111.21 224.21,111.20 224.72,111.19 225.24,111.18 225.76,111.17 226.27,111.16 226.79,111.15 227.31,111.14 227.83,111.13 228.34,111.12 228.86,111.12 229.38,111.11 229.89,111.10 230.41,111.10 230.93,111.09 231.45,111.08 231.96,111.08 232.48,111.07 233.00,111.07 233.51,111.07 234.03,111.06 234.55,111.06 235.06,111.05 235.58,111.05 236.10,111.05 236.62,111.04 237.13,111.04 237.65,111.04 238.17,111.03 238.68,111.03 239.20,111.03 239.72,111.03 240.24,111.03 240.75,111.02 241.27,111.02 241.79,111.02 242.30,111.02 242.82,111.02 243.34,111.01 243.85,111.01 244.37,111.01 244.89,111.01 245.41,111.01 245.92,111.01 246.44,111.01 246.96,111.01 247.47,111.01 247.99,111.00 248.51,111.00 249.03,111.00 249.54,111.00 250.06,111.00 250.58,111.00 251.09,111.00 251.61,111.00 252.13,111.00 252.65,111.00 253.16,111.00 253.68,111.00 254.20,111.00 254.71,111.00 255.23,111.00 255.75,111.00 256.26,111.00 256.78,110.99 257.30,110.99 257.82,110.99 258.33,110.99 258.85,110.99 259.37,110.99 259.88,110.99 260.40,110.99 260.92,110.99 261.44,110.99 261.95,110.99 262.47,110.99 262.99,110.99 263.50,110.99 264.02,110.99 264.54,110.99 265.06,110.99 265.57,110.99 266.09,110.99 266.61,110.99 267.12,110.99 267.64,110.99 268.16,110.99 268.67,110.99 269.19,110.99 269.71,110.99 270.23,110.99 270.74,110.99 271.26,110.99 271.78,110.99 272.29,110.99 272.81,110.99 273.33,110.99 273.85,110.99 274.36,110.99 274.88,110.99 275.40,110.99 275.91,110.99 276.43,110.99 276.95,110.99 277.47,110.99 277.98,110.99 278.50,110.99 279.02,110.99 279.53,110.99 280.05,110.99 280.57,110.99 281.09,110.99 281.60,110.99 282.12,110.99 282.64,110.99 283.15,110.99 283.67,110.99 284.19,110.99 284.70,110.99 285.22,110.99 285.74,110.99 286.26,110.99 286.77,110.99 287.29,110.99 287.81,110.99 288.32,110.99 288.84,110.99 289.36,110.99 289.88,110.99 290.39,110.99 290.91,110.99 291.43,110.99 291.94,110.99 292.46,110.99 292.98,110.99 293.50,110.99 294.01,110.99 294.53,110.99 295.05,110.99 295.56,110.99 296.08,110.99 296.60,110.99 297.11,110.99 297.63,110.99 298.15,110.99 298.67,110.99 299.18,110.99 299.70,110.99" fill="none" stroke="#9c0a0a" stroke-width="1.1"/>
<g fill="#111">
<circle cx="51.50" cy="161.95" r="1.8"/>
<circle cx="53.57" cy="161.95" r="1.8"/>
<circle cx="55.64" cy="161.95" r="1.8"/>
<circle cx="57.70" cy="161.95" r="1.8"/>
<circle cx="59.77" cy="161.95" r="1.8"/>
<circle cx="61.84" cy="161.95" r="1.8"/>
<circle cx="63.91" cy="161.95" r="1.8"/>
<circle cx="65.98" cy="161.95" r="1.8"/>
<circle cx="68.05" cy="161.95" r="1.8"/>
<circle cx="70.12" cy="161.95" r="1.8"/>
<circle cx="72.18" cy="161.95" r="1.8"/>
<circle cx="74.25" cy="161.95" r="1.8"/>
<circle cx="76.32" cy="161.95" r="1.8"/>
<circle cx="78.39" cy="161.95" r="1.8"/>
<circle cx="80.46" cy="161.95" r="1.8"/>
<circle cx="82.53" cy="161.95" r="1.8"/>
<circle cx="84.59" cy="161.95" r="1.8"/>
<circle cx="86.66" cy="161.95" r="1.8"/>
<circle cx="88.73" cy="161.94" r="1.8"/>
<circle cx="90.80" cy="161.94" r="1.8"/>
<circle cx="92.87" cy="161.94" r="1.8"/>
<circle cx="94.94" cy="161.94" r="1.8"/>
<circle cx="97.00" cy="161.93" r="1.8"/>
<circle cx="99.07" cy="161.93" r="1.8"/>
<circle cx="101.14" cy="161.93" r="1.8"/>
<circle cx="103.21" cy="161.92" r="1.8"/>
<circle cx="105.28" cy="161.91" r="1.8"/>
<circle cx="107.34" cy="161.90" r="1.8"/>
<circle cx="109.41" cy="161.89" r="1.8"/>
<circle cx="111.48" cy="161.87" r="1.8"/>
<circle cx="113.55" cy="161.85" r="1.8"/>
<circle cx="115.62" cy="161.83" r="1.8"/>
<circle cx="117.69" cy="161.79" r="1.8"/>
<circle cx="119.75" cy="161.75" r="1.8"/>
<circle cx="121.82" cy="161.70" r="1.8"/>
<circle cx="123.89" cy="161.64" r="1.8"/>
<circle cx="125.96" cy="161.56" r="1.8"/>
<circle cx="128.03" cy="161.46" r="1.8"/>
<circle cx="130.10" cy="161.34" r="1.8"/>
<circle cx="132.16" cy="161.18" r="1.8"/>
<circle cx="134.23" cy="160.99" r="1.8"/>
<circle cx="136.30" cy="160.75" r="1.8"/>
<circle cx="138.37" cy="160.45" r="1.8"/>
<circle cx="140.44" cy="160.09" r="1.8"/>
<circle cx="142.51" cy="159.64" r="1.8"/>
<circle cx="144.57" cy="159.09" r="1.8"/>
<circle cx="146.64" cy="158.42" r="1.8"/>
<circle cx="148.71" cy="157.61" r="1.8"/>
<circle cx="150.78" cy="156.65" r="1.8"/>
<circle cx="152.85" cy="155.52" r="1.8"/>
<circle cx="154.92" cy="154.19" r="1.8"/>
<circle cx="156.99" cy="152.66" r="1.8"/>
<circle cx="159.05" cy="150.92" r="1.8"/>
<circle cx="161.12" cy="148.97" r="1.8"/>
<circle cx="163.19" cy="146.81" r="1.8"/>
<circle cx="165.26" cy="144.46" r="1.8"/>
<circle cx="167.33" cy="141.94" r="1.8"/>
<circle cx="169.39" cy="139.27" r="1.8"/>
<circle cx="171.46" cy="136.50" r="1.8"/>
<circle cx="173.53" cy="133.64" r="1.8"/>
<circle cx="175.60" cy="130.75" r="1.8"/>
<circle cx="177.67" cy="127.86" r="1.8"/>
<circle cx="179.74" cy="125.00" r="1.8"/>
<circle cx="181.81" cy="122.23" r="1.8"/>
<circle cx="183.87" cy="119.56" r="1.8"/>
<circle cx="185.94" cy="117.04" r="1.8"/>
<circle cx="188.01" cy="114.69" r="1.8"/>
<circle cx="190.08" cy="112.53" r="1.8"/>
<circle cx="192.15" cy="110.58" r="1.8"/>
<circle cx="194.22" cy="108.84" r="1.8"/>
<circle cx="196.28" cy="107.31" r="1.8"/>
<circle cx="198.35" cy="105.98" r="1.8"/>
<circle cx="200.42" cy="104.85" r="1.8"/>
<circle cx="202.49" cy="103.89" r="1.8"/>
<circle cx="204.56" cy="103.08" r="1.8"/>
<circle cx="206.62" cy="102.41" r="1.8"/>
<circle cx="208.69" cy="101.86" r="1.8"/>
<circle cx="210.76" cy="101.41" r="1.8"/>
<circle cx="212.83" cy="101.05" r="1.8"/>
<circle cx="214.90" cy="100.75" r="1.8"/>
<circle cx="216.97" cy="100.51" r="1.8"/>
<circle cx="219.03" cy="100.32" r="1.8"/>
<circle cx="221.10" cy="100.16" r="1.8"/>
<circle cx="223.17" cy="100.04" r="1.8"/>
<circle cx="225.24" cy="99.94" r="1.8"/>
<circle cx="227.31" cy="99.86" r="1.8"/>
<circle cx="229.38" cy="99.80" r="1.8"/>
<circle cx="231.45" cy="99.75" r="1.8"/>
<circle cx="233.51" cy="99.71" r="1.8"/>
<circle cx="235.58" cy="99.67" r="1.8"/>
<circle cx="237.65" cy="99.65" r="1.8"/>
<circle cx="239.72" cy="99.63" r="1.8"/>
<circle cx="241.79" cy="99.61" r="1.8"/>
<circle cx="243.85" cy="99.60" r="1.8"/>
<circle cx="245.92" cy="99.59" r="1.8"/>
<circle cx="247.99" cy="99.58" r="1.8"/>
<circle cx="250.06" cy="99.57" r="1.8"/>
<circle cx="252.13" cy="99.57" r="1.8"/>
<circle cx="254.20" cy="99.57" r="1.8"/>
<circle cx="256.26" cy="99.56" r="1.8"/>
<circle cx="258.33" cy="99.56" r="1.8"/>
<circle cx="260.40" cy="99.56" r="1.8"/>
<circle cx="262.47" cy="99.56" r="1.8"/>
<circle cx="264.54" cy="99.55" r="1.8"/>
<circle cx="266.61" cy="99.55" r="1.8"/>
<circle cx="268.67" cy="99.55" r="1.8"/>
<circle cx="270.74" cy="99.55" r="1.8"/>
<circle cx="272.81" cy="99.55" r="1.8"/>
<circle cx="274.88" cy="99.55" r="1.8"/>
<circle cx="276.95" cy="99.55" r="1.8"/>
<circle cx="279.02" cy="99.55" r="1.8"/>
<circle cx="281.09" cy="99.55" r="1.8"/>
<circle cx="283.15" cy="99.55" r="1.8"/>
<circle cx="285.22" cy="99.55" r="1.8"/>
<circle cx="287.29" cy="99.55" r="1.8"/>
<circle cx="289.36" cy="99.55" r="1.8"/>
<circle cx="291.43" cy="99.55" r="1.8"/>
<circle cx="293.50" cy="99.55" r="1.8"/>
<circle cx="295.56" cy="99.55" r="1.8"/>
<circle cx="297.63" cy="99.55" r="1.8"/>
<circle cx="299.70" cy="99.55" r="1.8"/>
</g>
<polyline points="51.50,161.95 52.02,161.95 52.53,161.95 53.05,161.95 53.57,161.95 54.09,161.95 54.60,161.95 55.12,161.95 55.64,161.95 56.15,161.95 56.67,161.95 57.19,161.95 57.70,161.95 58.22,161.95 58.74,161.95 59.26,161.95 59.77,161.95 60.29,161.95 60.81,161.95 61.32,161.95 61.84,161.95 62.36,161.95 62.88,161.95 63.39,161.95 63.91,161.95 64.43,161.95 64.94,161.95 65.46,161.95 65.98,161.95 66.50,161.95 67.01,161.95 67.53,161.95 68.05,161.95 68.56,161.95 69.08,161.95 69.60,161.95 70.12,161.95 70.63,161.95 71.15,161.95 71.67,161.95 72.18,161.95 72.70,161.95 73.22,161.95 73.73,161.95 74.25,161.95 74.77,161.95 75.29,161.95 75.80,161.95 76.32,161.95 76.84,161.95 77.35,161.95 77.87,161.95 78.39,161.95 78.91,161.95 79.42,161.95 79.94,161.95 80.46,161.95 80.97,161.95 81.49,161.95 82.01,161.95 82.53,161.95 83.04,161.95 83.56,161.95 84.08,161.95 84.59,161.95 85.11,161.95 85.63,161.95 86.14,161.95 86.66,161.95 87.18,161.95 87.70,161.94 88.21,161.94 88.73,161.94 89.25,161.94 89.76,161.94 90.28,161.94 90.80,161.94 91.32,161.94 91.83,161.94 92.35,161.94 92.87,161.94 93.38,161.94 93.90,161.94 94.42,161.94 94.94,161.94 95.45,161.94 95.97,161.94 96.49,161.94 97.00,161.93 97.52,161.93 98.04,161.93 98.55,161.93 99.07,161.93 99.59,161.93 100.11,161.93 100.62,161.93 101.14,161.93 101.66,161.92 102.17,161.92 102.69,161.92 103.21,161.92 103.73,161.92 104.24,161.92 104.76,161.91 105.28,161.91 105.79,161.91 106.31,161.91 106.83,161.90 107.34,161.90 107.86,161.90 108.38,161.89 108.90,161.89 109.41,161.89 109.93,161.88 110.45,161.88 110.96,161.88 111.48,161.87 112.00,161.87 112.52,161.86 113.03,161.86 113.55,161.85 114.07,161.85 114.58,161.84 115.10,161.83 115.62,161.83 116.14,161.82 116.65,161.81 117.17,161.80 117.69,161.79 118.20,161.79 118.72,161.78 119.24,161.77 119.75,161.75 120.27,161.74 120.79,161.73 121.31,161.72 121.82,161.70 122.34,161.69 122.86,161.67 123.37,161.66 123.89,161.64 124.41,161.62 124.93,161.60 125.44,161.58 125.96,161.56 126.48,161.54 126.99,161.51 127.51,161.49 128.03,161.46 128.55,161.43 129.06,161.40 129.58,161.37 130.10,161.34 130.61,161.30 131.13,161.27 131.65,161.23 132.16,161.18 132.68,161.14 133.20,161.09 133.72,161.04 134.23,160.99 134.75,160.94 135.27,160.88 135.78,160.82 136.30,160.75 136.82,160.68 137.34,160.61 137.85,160.53 138.37,160.45 138.89,160.37 139.40,160.28 139.92,160.19 140.44,160.09 140.96,159.98 141.47,159.87 141.99,159.76 142.51,159.64 143.02,159.51 143.54,159.37 144.06,159.23 144.57,159.09 145.09,158.93 145.61,158.77 146.13,158.60 146.64,158.42 147.16,158.23 147.68,158.03 148.19,157.83 148.71,157.61 149.23,157.39 149.75,157.15 150.26,156.91 150.78,156.65 151.30,156.38 151.81,156.11 152.33,155.82 152.85,155.52 153.37,155.20 153.88,154.88 154.40,154.54 154.92,154.19 155.43,153.83 155.95,153.45 156.47,153.06 156.99,152.66 157.50,152.24 158.02,151.82 158.54,151.37 159.05,150.92 159.57,150.45 160.09,149.97 160.60,149.47 161.12,148.97 161.64,148.45 162.16,147.91 162.67,147.37 163.19,146.81 163.71,146.24 164.22,145.66 164.74,145.06 165.26,144.46 165.78,143.84 166.29,143.22 166.81,142.58 167.33,141.94 167.84,141.28 168.36,140.62 168.88,139.95 169.39,139.27 169.91,138.59 170.43,137.90 170.95,137.20 171.46,136.50 171.98,135.79 172.50,135.08 173.01,134.36 173.53,133.64 174.05,132.92 174.57,132.20 175.08,131.47 175.60,130.75 176.12,130.03 176.63,129.30 177.15,128.58 177.67,127.86 178.19,127.14 178.70,126.42 179.22,125.71 179.74,125.00 180.25,124.30 180.77,123.60 181.29,122.91 181.81,122.23 182.32,121.55 182.84,120.88 183.36,120.22 183.87,119.56 184.39,118.92 184.91,118.28 185.42,117.66 185.94,117.04 186.46,116.44 186.98,115.84 187.49,115.26 188.01,114.69 188.53,114.13 189.04,113.59 189.56,113.05 190.08,112.53 190.60,112.03 191.11,111.53 191.63,111.05 192.15,110.58 192.66,110.13 193.18,109.68 193.70,109.26 194.22,108.84 194.73,108.44 195.25,108.05 195.77,107.67 196.28,107.31 196.80,106.96 197.32,106.62 197.83,106.30 198.35,105.98 198.87,105.68 199.39,105.39 199.90,105.12 200.42,104.85 200.94,104.59 201.45,104.35 201.97,104.11 202.49,103.89 203.01,103.67 203.52,103.47 204.04,103.27 204.56,103.08 205.07,102.90 205.59,102.73 206.11,102.57 206.62,102.41 207.14,102.27 207.66,102.13 208.18,101.99 208.69,101.86 209.21,101.74 209.73,101.63 210.24,101.52 210.76,101.41 211.28,101.31 211.80,101.22 212.31,101.13 212.83,101.05 213.35,100.97 213.86,100.89 214.38,100.82 214.90,100.75 215.42,100.68 215.93,100.62 216.45,100.56 216.97,100.51 217.48,100.46 218.00,100.41 218.52,100.36 219.03,100.32 219.55,100.27 220.07,100.23 220.59,100.20 221.10,100.16 221.62,100.13 222.14,100.10 222.65,100.07 223.17,100.04 223.69,100.01 224.21,99.99 224.72,99.96 225.24,99.94 225.76,99.92 226.27,99.90 226.79,99.88 227.31,99.86 227.83,99.84 228.34,99.83 228.86,99.81 229.38,99.80 229.89,99.78 230.41,99.77 230.93,99.76 231.45,99.75 231.96,99.73 232.48,99.72 233.00,99.71 233.51,99.71 234.03,99.70 234.55,99.69 235.06,99.68 235.58,99.67 236.10,99.67 236.62,99.66 237.13,99.65 237.65,99.65 238.17,99.64 238.68,99.64 239.20,99.63 239.72,99.63 240.24,99.62 240.75,99.62 241.27,99.62 241.79,99.61 242.30,99.61 242.82,99.61 243.34,99.60 243.85,99.60 244.37,99.60 244.89,99.59 245.41,99.59 245.92,99.59 246.44,99.59 246.96,99.58 247.47,99.58 247.99,99.58 248.51,99.58 249.03,99.58 249.54,99.58 250.06,99.57 250.58,99.57 251.09,99.57 251.61,99.57 252.13,99.57 252.65,99.57 253.16,99.57 253.68,99.57 254.20,99.57 254.71,99.56 255.23,99.56 255.75,99.56 256.26,99.56 256.78,99.56 257.30,99.56 257.82,99.56 258.33,99.56 258.85,99.56 259.37,99.56 259.88,99.56 260.40,99.56 260.92,99.56 261.44,99.56 261.95,99.56 262.47,99.56 262.99,99.56 263.50,99.56 264.02,99.55 264.54,99.55 265.06,99.55 265.57,99.55 266.09,99.55 266.61,99.55 267.12,99.55 267.64,99.55 268.16,99.55 268.67,99.55 269.19,99.55 269.71,99.55 270.23,99.55 270.74,99.55 271.26,99.55 271.78,99.55 272.29,99.55 272.81,99.55 273.33,99.55 273.85,99.55 274.36,99.55 274.88,99.55 275.40,99.55 275.91,99.55 276.43,99.55 276.95,99.55 277.47,99.55 277.98,99.55 278.50,99.55 279.02,99.55 279.53,99.55 280.05,99.55 280.57,99.55 281.09,99.55 281.60,99.55 282.12,99.55 282.64,99.55 283.15,99.55 283.67,99.55 284.19,99.55 284.70,99.55 285.22,99.55 285.74,99.55 286.26,99.55 286.77,99.55 287.29,99.55 287.81,99.55 288.32,99.55 288.84,99.55 289.36,99.55 289.88,99.55 290.39,99.55 290.91,99.55 291.43,99.55 291.94,99.55 292.46,99.55 292.98,99.55 293.50,99.55 294.01,99.55 294.53,99.55 295.05,99.55 295.56,99.55 296.08,99.55 296.60,99.55 297.11,99.55 297.63,99.55 298.15,99.55 298.67,99.55 299.18,99.55 299.70,99.55" fill="none" stroke="#9c0a0a" stroke-width="1.1"/>
<g fill="#111">
<circle cx="51.50" cy="175.94" r="1.8"/>
<circle cx="53.57" cy="175.94" r="1.8"/>
<circle cx="55.64" cy="175.94" r="1.8"/>
<circle cx="57.70" cy="175.94" r="1.8"/>
<circle cx="59.77" cy="175.94" r="1.8"/>
<circle cx="61.84" cy="175.94" r="1.8"/>
<circle cx="63.91" cy="175.94" r="1.8"/>
<circle cx="65.98" cy="175.94" r="1.8"/>
<circle cx="68.05" cy="175.94" r="1.8"/>
<circle cx="70.12" cy="175.94" r="1.8"/>
<circle cx="72.18" cy="175.94" r="1.8"/>
<circle cx="74.25" cy="175.94" r="1.8"/>
<circle cx="76.32" cy="175.94" r="1.8"/>
<circle cx="78.39" cy="175.93" r="1.8"/>
<circle cx="80.46" cy="175.93" r="1.8"/>
<circle cx="82.53" cy="175.93" r="1.8"/>
<circle cx="84.59" cy="175.93" r="1.8"/>
<circle cx="86.66" cy="175.93" r="1.8"/>
<circle cx="88.73" cy="175.93" r="1.8"/>
<circle cx="90.80" cy="175.92" r="1.8"/>
<circle cx="92.87" cy="175.92" r="1.8"/>
<circle cx="94.94" cy="175.91" r="1.8"/>
<circle cx="97.00" cy="175.90" r="1.8"/>
<circle cx="99.07" cy="175.89" r="1.8"/>
<circle cx="101.14" cy="175.88" r="1.8"/>
<circle cx="103.21" cy="175.87" r="1.8"/>
<circle cx="105.28" cy="175.85" r="1.8"/>
<circle cx="107.34" cy="175.83" r="1.8"/>
<circle cx="109.41" cy="175.80" r="1.8"/>
<circle cx="111.48" cy="175.76" r="1.8"/>
<circle cx="113.55" cy="175.72" r="1.8"/>
<circle cx="115.62" cy="175.66" r="1.8"/>
<circle cx="117.69" cy="175.59" r="1.8"/>
<circle cx="119.75" cy="175.50" r="1.8"/>
<circle cx="121.82" cy="175.39" r="1.8"/>
<circle cx="123.89" cy="175.26" r="1.8"/>
<circle cx="125.96" cy="175.08" r="1.8"/>
<circle cx="128.03" cy="174.87" r="1.8"/>
<circle cx="130.10" cy="174.60" r="1.8"/>
<circle cx="132.16" cy="174.27" r="1.8"/>
<circle cx="134.23" cy="173.86" r="1.8"/>
<circle cx="136.30" cy="173.36" r="1.8"/>
<circle cx="138.37" cy="172.75" r="1.8"/>
<circle cx="140.44" cy="172.01" r="1.8"/>
<circle cx="142.51" cy="171.12" r="1.8"/>
<circle cx="144.57" cy="170.06" r="1.8"/>
<circle cx="146.64" cy="168.81" r="1.8"/>
<circle cx="148.71" cy="167.36" r="1.8"/>
<circle cx="150.78" cy="165.68" r="1.8"/>
<circle cx="152.85" cy="163.77" r="1.8"/>
<circle cx="154.92" cy="161.63" r="1.8"/>
<circle cx="156.99" cy="159.27" r="1.8"/>
<circle cx="159.05" cy="156.68" r="1.8"/>
<circle cx="161.12" cy="153.90" r="1.8"/>
<circle cx="163.19" cy="150.93" r="1.8"/>
<circle cx="165.26" cy="147.81" r="1.8"/>
<circle cx="167.33" cy="144.55" r="1.8"/>
<circle cx="169.39" cy="141.19" r="1.8"/>
<circle cx="171.46" cy="137.76" r="1.8"/>
<circle cx="173.53" cy="134.27" r="1.8"/>
<circle cx="175.60" cy="130.75" r="1.8"/>
<circle cx="177.67" cy="127.23" r="1.8"/>
<circle cx="179.74" cy="123.74" r="1.8"/>
<circle cx="181.81" cy="120.31" r="1.8"/>
<circle cx="183.87" cy="116.95" r="1.8"/>
<circle cx="185.94" cy="113.69" r="1.8"/>
<circle cx="188.01" cy="110.57" r="1.8"/>
<circle cx="190.08" cy="107.60" r="1.8"/>
<circle cx="192.15" cy="104.82" r="1.8"/>
<circle cx="194.22" cy="102.23" r="1.8"/>
<circle cx="196.28" cy="99.87" r="1.8"/>
<circle cx="198.35" cy="97.73" r="1.8"/>
<circle cx="200.42" cy="95.82" r="1.8"/>
<circle cx="202.49" cy="94.14" r="1.8"/>
<circle cx="204.56" cy="92.69" r="1.8"/>
<circle cx="206.62" cy="91.44" r="1.8"/>
<circle cx="208.69" cy="90.38" r="1.8"/>
<circle cx="210.76" cy="89.49" r="1.8"/>
<circle cx="212.83" cy="88.75" r="1.8"/>
<circle cx="214.90" cy="88.14" r="1.8"/>
<circle cx="216.97" cy="87.64" r="1.8"/>
<circle cx="219.03" cy="87.23" r="1.8"/>
<circle cx="221.10" cy="86.90" r="1.8"/>
<circle cx="223.17" cy="86.63" r="1.8"/>
<circle cx="225.24" cy="86.42" r="1.8"/>
<circle cx="227.31" cy="86.24" r="1.8"/>
<circle cx="229.38" cy="86.11" r="1.8"/>
<circle cx="231.45" cy="86.00" r="1.8"/>
<circle cx="233.51" cy="85.91" r="1.8"/>
<circle cx="235.58" cy="85.84" r="1.8"/>
<circle cx="237.65" cy="85.78" r="1.8"/>
<circle cx="239.72" cy="85.74" r="1.8"/>
<circle cx="241.79" cy="85.70" r="1.8"/>
<circle cx="243.85" cy="85.67" r="1.8"/>
<circle cx="245.92" cy="85.65" r="1.8"/>
<circle cx="247.99" cy="85.63" r="1.8"/>
<circle cx="250.06" cy="85.62" r="1.8"/>
<circle cx="252.13" cy="85.61" r="1.8"/>
<circle cx="254.20" cy="85.60" r="1.8"/>
<circle cx="256.26" cy="85.59" r="1.8"/>
<circle cx="258.33" cy="85.58" r="1.8"/>
<circle cx="260.40" cy="85.58" r="1.8"/>
<circle cx="262.47" cy="85.57" r="1.8"/>
<circle cx="264.54" cy="85.57" r="1.8"/>
<circle cx="266.61" cy="85.57" r="1.8"/>
<circle cx="268.67" cy="85.57" r="1.8"/>
<circle cx="270.74" cy="85.57" r="1.8"/>
<circle cx="272.81" cy="85.57" r="1.8"/>
<circle cx="274.88" cy="85.56" r="1.8"/>
<circle cx="276.95" cy="85.56" r="1.8"/>
<circle cx="279.02" cy="85.56" r="1.8"/>
<circle cx="281.09" cy="85.56" r="1.8"/>
<circle cx="283.15" cy="85.56" r="1.8"/>
<circle cx="285.22" cy="85.56" r="1.8"/>
<circle cx="287.29" cy="85.56" r="1.8"/>
<circle cx="289.36" cy="85.56" r="1.8"/>
<circle cx="291.43" cy="85.56" r="1.8"/>
<circle cx="293.50" cy="85.56" r="1.8"/>
<circle cx="295.56" cy="85.56" r="1.8"/>
<circle cx="297.63" cy="85.56" r="1.8"/>
<circle cx="299.70" cy="85.56" r="1.8"/>
</g>
<polyline points="51.50,175.94 52.02,175.94 52.53,175.94 53.05,175.94 53.57,175.94 54.09,175.94 54.60,175.94 55.12,175.94 55.64,175.94 56.15,175.94 56.67,175.94 57.19,175.94 57.70,175.94 58.22,175.94 58.74,175.94 59.26,175.94 59.77,175.94 60.29,175.94 60.81,175.94 61.32,175.94 61.84,175.94 62.36,175.94 62.88,175.94 63.39,175.94 63.91,175.94 64.43,175.94 64.94,175.94 65.46,175.94 65.98,175.94 66.50,175.94 67.01,175.94 67.53,175.94 68.05,175.94 68.56,175.94 69.08,175.94 69.60,175.94 70.12,175.94 70.63,175.94 71.15,175.94 71.67,175.94 72.18,175.94 72.70,175.94 73.22,175.94 73.73,175.94 74.25,175.94 74.77,175.94 75.29,175.94 75.80,175.94 76.32,175.94 76.84,175.94 77.35,175.93 77.87,175.93 78.39,175.93 78.91,175.93 79.42,175.93 79.94,175.93 80.46,175.93 80.97,175.93 81.49,175.93 82.01,175.93 82.53,175.93 83.04,175.93 83.56,175.93 84.08,175.93 84.59,175.93 85.11,175.93 85.63,175.93 86.14,175.93 86.66,175.93 87.18,175.93 87.70,175.93 88.21,175.93 88.73,175.93 89.25,175.92 89.76,175.92 90.28,175.92 90.80,175.92 91.32,175.92 91.83,175.92 92.35,175.92 92.87,175.92 93.38,175.92 93.90,175.91 94.42,175.91 94.94,175.91 95.45,175.91 95.97,175.91 96.49,175.91 97.00,175.90 97.52,175.90 98.04,175.90 98.55,175.90 99.07,175.89 99.59,175.89 100.11,175.89 100.62,175.89 101.14,175.88 101.66,175.88 102.17,175.88 102.69,175.87 103.21,175.87 103.73,175.87 104.24,175.86 104.76,175.86 105.28,175.85 105.79,175.85 106.31,175.84 106.83,175.83 107.34,175.83 107.86,175.82 108.38,175.82 108.90,175.81 109.41,175.80 109.93,175.79 110.45,175.78 110.96,175.77 111.48,175.76 112.00,175.75 112.52,175.74 113.03,175.73 113.55,175.72 114.07,175.71 114.58,175.69 115.10,175.68 115.62,175.66 116.14,175.65 116.65,175.63 117.17,175.61 117.69,175.59 118.20,175.57 118.72,175.55 119.24,175.53 119.75,175.50 120.27,175.48 120.79,175.45 121.31,175.42 121.82,175.39 122.34,175.36 122.86,175.33 123.37,175.29 123.89,175.26 124.41,175.22 124.93,175.17 125.44,175.13 125.96,175.08 126.48,175.03 126.99,174.98 127.51,174.93 128.03,174.87 128.55,174.81 129.06,174.74 129.58,174.67 130.10,174.60 130.61,174.52 131.13,174.44 131.65,174.36 132.16,174.27 132.68,174.18 133.20,174.08 133.72,173.97 134.23,173.86 134.75,173.75 135.27,173.62 135.78,173.50 136.30,173.36 136.82,173.22 137.34,173.07 137.85,172.91 138.37,172.75 138.89,172.58 139.40,172.40 139.92,172.21 140.44,172.01 140.96,171.80 141.47,171.59 141.99,171.36 142.51,171.12 143.02,170.87 143.54,170.61 144.06,170.34 144.57,170.06 145.09,169.77 145.61,169.46 146.13,169.14 146.64,168.81 147.16,168.47 147.68,168.11 148.19,167.74 148.71,167.36 149.23,166.96 149.75,166.54 150.26,166.12 150.78,165.68 151.30,165.22 151.81,164.75 152.33,164.27 152.85,163.77 153.37,163.26 153.88,162.73 154.40,162.19 154.92,161.63 155.43,161.06 155.95,160.48 156.47,159.88 156.99,159.27 157.50,158.64 158.02,158.00 158.54,157.35 159.05,156.68 159.57,156.00 160.09,155.31 160.60,154.61 161.12,153.90 161.64,153.17 162.16,152.43 162.67,151.69 163.19,150.93 163.71,150.16 164.22,149.39 164.74,148.60 165.26,147.81 165.78,147.01 166.29,146.20 166.81,145.38 167.33,144.55 167.84,143.72 168.36,142.89 168.88,142.04 169.39,141.19 169.91,140.34 170.43,139.48 170.95,138.62 171.46,137.76 171.98,136.89 172.50,136.02 173.01,135.14 173.53,134.27 174.05,133.39 174.57,132.51 175.08,131.63 175.60,130.75 176.12,129.87 176.63,128.99 177.15,128.11 177.67,127.23 178.19,126.36 178.70,125.48 179.22,124.61 179.74,123.74 180.25,122.88 180.77,122.02 181.29,121.16 181.81,120.31 182.32,119.46 182.84,118.61 183.36,117.78 183.87,116.95 184.39,116.12 184.91,115.30 185.42,114.49 185.94,113.69 186.46,112.90 186.98,112.11 187.49,111.34 188.01,110.57 188.53,109.81 189.04,109.07 189.56,108.33 190.08,107.60 190.60,106.89 191.11,106.19 191.63,105.50 192.15,104.82 192.66,104.15 193.18,103.50 193.70,102.86 194.22,102.23 194.73,101.62 195.25,101.02 195.77,100.44 196.28,99.87 196.80,99.31 197.32,98.77 197.83,98.24 198.35,97.73 198.87,97.23 199.39,96.75 199.90,96.28 200.42,95.82 200.94,95.38 201.45,94.96 201.97,94.54 202.49,94.14 203.01,93.76 203.52,93.39 204.04,93.03 204.56,92.69 205.07,92.36 205.59,92.04 206.11,91.73 206.62,91.44 207.14,91.16 207.66,90.89 208.18,90.63 208.69,90.38 209.21,90.14 209.73,89.91 210.24,89.70 210.76,89.49 211.28,89.29 211.80,89.10 212.31,88.92 212.83,88.75 213.35,88.59 213.86,88.43 214.38,88.28 214.90,88.14 215.42,88.00 215.93,87.88 216.45,87.75 216.97,87.64 217.48,87.53 218.00,87.42 218.52,87.32 219.03,87.23 219.55,87.14 220.07,87.06 220.59,86.98 221.10,86.90 221.62,86.83 222.14,86.76 222.65,86.69 223.17,86.63 223.69,86.57 224.21,86.52 224.72,86.47 225.24,86.42 225.76,86.37 226.27,86.33 226.79,86.28 227.31,86.24 227.83,86.21 228.34,86.17 228.86,86.14 229.38,86.11 229.89,86.08 230.41,86.05 230.93,86.02 231.45,86.00 231.96,85.97 232.48,85.95 233.00,85.93 233.51,85.91 234.03,85.89 234.55,85.87 235.06,85.85 235.58,85.84 236.10,85.82 236.62,85.81 237.13,85.79 237.65,85.78 238.17,85.77 238.68,85.76 239.20,85.75 239.72,85.74 240.24,85.73 240.75,85.72 241.27,85.71 241.79,85.70 242.30,85.69 242.82,85.68 243.34,85.68 243.85,85.67 244.37,85.67 244.89,85.66 245.41,85.65 245.92,85.65 246.44,85.64 246.96,85.64 247.47,85.63 247.99,85.63 248.51,85.63 249.03,85.62 249.54,85.62 250.06,85.62 250.58,85.61 251.09,85.61 251.61,85.61 252.13,85.61 252.65,85.60 253.16,85.60 253.68,85.60 254.20,85.60 254.71,85.59 255.23,85.59 255.75,85.59 256.26,85.59 256.78,85.59 257.30,85.59 257.82,85.58 258.33,85.58 258.85,85.58 259.37,85.58 259.88,85.58 260.40,85.58 260.92,85.58 261.44,85.58 261.95,85.58 262.47,85.57 262.99,85.57 263.50,85.57 264.02,85.57 264.54,85.57 265.06,85.57 265.57,85.57 266.09,85.57 266.61,85.57 267.12,85.57 267.64,85.57 268.16,85.57 268.67,85.57 269.19,85.57 269.71,85.57 270.23,85.57 270.74,85.57 271.26,85.57 271.78,85.57 272.29,85.57 272.81,85.57 273.33,85.57 273.85,85.57 274.36,85.56 274.88,85.56 275.40,85.56 275.91,85.56 276.43,85.56 276.95,85.56 277.47,85.56 277.98,85.56 278.50,85.56 279.02,85.56 279.53,85.56 280.05,85.56 280.57,85.56 281.09,85.56 281.60,85.56 282.12,85.56 282.64,85.56 283.15,85.56 283.67,85.56 284.19,85.56 284.70,85.56 285.22,85.56 285.74,85.56 286.26,85.56 286.77,85.56 287.29,85.56 287.81,85.56 288.32,85.56 288.84,85.56 289.36,85.56 289.88,85.56 290.39,85.56 290.91,85.56 291.43,85.56 291.94,85.56 292.46,85.56 292.98,85.56 293.50,85.56 294.01,85.56 294.53,85.56 295.05,85.56 295.56,85.56 296.08,85.56 296.60,85.56 297.11,85.56 297.63,85.56 298.15,85.56 298.67,85.56 299.18,85.56 299.70,85.56" fill="none" stroke="#9c0a0a" stroke-width="1.1"/>
<g fill="#111">
<circle cx="51.50" cy="196.65" r="1.8"/>
<circle cx="53.57" cy="196.65" r="1.8"/>
<circle cx="55.64" cy="196.65" r="1.8"/>
<circle cx="57.70" cy="196.65" r="1.8"/>
<circle cx="59.77" cy="196.64" r="1.8"/>
<circle cx="61.84" cy="196.64" r="1.8"/>
<circle cx="63.91" cy="196.64" r="1.8"/>
<circle cx="65.98" cy="196.64" r="1.8"/>
<circle cx="68.05" cy="196.64" r="1.8"/>
<circle cx="70.12" cy="196.64" r="1.8"/>
<circle cx="72.18" cy="196.64" r="1.8"/>
<circle cx="74.25" cy="196.64" r="1.8"/>
<circle cx="76.32" cy="196.64" r="1.8"/>
<circle cx="78.39" cy="196.63" r="1.8"/>
<circle cx="80.46" cy="196.63" r="1.8"/>
<circle cx="82.53" cy="196.62" r="1.8"/>
<circle cx="84.59" cy="196.62" r="1.8"/>
<circle cx="86.66" cy="196.61" r="1.8"/>
<circle cx="88.73" cy="196.60" r="1.8"/>
<circle cx="90.80" cy="196.59" r="1.8"/>
<circle cx="92.87" cy="196.58" r="1.8"/>
<circle cx="94.94" cy="196.56" r="1.8"/>
<circle cx="97.00" cy="196.54" r="1.8"/>
<circle cx="99.07" cy="196.51" r="1.8"/>
<circle cx="101.14" cy="196.47" r="1.8"/>
<circle cx="103.21" cy="196.43" r="1.8"/>
<circle cx="105.28" cy="196.37" r="1.8"/>
<circle cx="107.34" cy="196.30" r="1.8"/>
<circle cx="109.41" cy="196.21" r="1.8"/>
<circle cx="111.48" cy="196.10" r="1.8"/>
<circle cx="113.55" cy="195.96" r="1.8"/>
<circle cx="115.62" cy="195.79" r="1.8"/>
<circle cx="117.69" cy="195.57" r="1.8"/>
<circle cx="119.75" cy="195.30" r="1.8"/>
<circle cx="121.82" cy="194.97" r="1.8"/>
<circle cx="123.89" cy="194.56" r="1.8"/>
<circle cx="125.96" cy="194.05" r="1.8"/>
<circle cx="128.03" cy="193.44" r="1.8"/>
<circle cx="130.10" cy="192.69" r="1.8"/>
<circle cx="132.16" cy="191.80" r="1.8"/>
<circle cx="134.23" cy="190.73" r="1.8"/>
<circle cx="136.30" cy="189.47" r="1.8"/>
<circle cx="138.37" cy="188.00" r="1.8"/>
<circle cx="140.44" cy="186.30" r="1.8"/>
<circle cx="142.51" cy="184.37" r="1.8"/>
<circle cx="144.57" cy="182.21" r="1.8"/>
<circle cx="146.64" cy="179.81" r="1.8"/>
<circle cx="148.71" cy="177.18" r="1.8"/>
<circle cx="150.78" cy="174.35" r="1.8"/>
<circle cx="152.85" cy="171.31" r="1.8"/>
<circle cx="154.92" cy="168.11" r="1.8"/>
<circle cx="156.99" cy="164.75" r="1.8"/>
<circle cx="159.05" cy="161.26" r="1.8"/>
<circle cx="161.12" cy="157.66" r="1.8"/>
<circle cx="163.19" cy="153.97" r="1.8"/>
<circle cx="165.26" cy="150.20" r="1.8"/>
<circle cx="167.33" cy="146.38" r="1.8"/>
<circle cx="169.39" cy="142.51" r="1.8"/>
<circle cx="171.46" cy="138.61" r="1.8"/>
<circle cx="173.53" cy="134.68" r="1.8"/>
<circle cx="175.60" cy="130.75" r="1.8"/>
<circle cx="177.67" cy="126.82" r="1.8"/>
<circle cx="179.74" cy="122.89" r="1.8"/>
<circle cx="181.81" cy="118.99" r="1.8"/>
<circle cx="183.87" cy="115.12" r="1.8"/>
<circle cx="185.94" cy="111.30" r="1.8"/>
<circle cx="188.01" cy="107.53" r="1.8"/>
<circle cx="190.08" cy="103.84" r="1.8"/>
<circle cx="192.15" cy="100.24" r="1.8"/>
<circle cx="194.22" cy="96.75" r="1.8"/>
<circle cx="196.28" cy="93.39" r="1.8"/>
<circle cx="198.35" cy="90.19" r="1.8"/>
<circle cx="200.42" cy="87.15" r="1.8"/>
<circle cx="202.49" cy="84.32" r="1.8"/>
<circle cx="204.56" cy="81.69" r="1.8"/>
<circle cx="206.62" cy="79.29" r="1.8"/>
<circle cx="208.69" cy="77.13" r="1.8"/>
<circle cx="210.76" cy="75.20" r="1.8"/>
<circle cx="212.83" cy="73.50" r="1.8"/>
<circle cx="214.90" cy="72.03" r="1.8"/>
<circle cx="216.97" cy="70.77" r="1.8"/>
<circle cx="219.03" cy="69.70" r="1.8"/>
<circle cx="221.10" cy="68.81" r="1.8"/>
<circle cx="223.17" cy="68.06" r="1.8"/>
<circle cx="225.24" cy="67.45" r="1.8"/>
<circle cx="227.31" cy="66.94" r="1.8"/>
<circle cx="229.38" cy="66.53" r="1.8"/>
<circle cx="231.45" cy="66.20" r="1.8"/>
<circle cx="233.51" cy="65.93" r="1.8"/>
<circle cx="235.58" cy="65.71" r="1.8"/>
<circle cx="237.65" cy="65.54" r="1.8"/>
<circle cx="239.72" cy="65.40" r="1.8"/>
<circle cx="241.79" cy="65.29" r="1.8"/>
<circle cx="243.85" cy="65.20" r="1.8"/>
<circle cx="245.92" cy="65.13" r="1.8"/>
<circle cx="247.99" cy="65.07" r="1.8"/>
<circle cx="250.06" cy="65.03" r="1.8"/>
<circle cx="252.13" cy="64.99" r="1.8"/>
<circle cx="254.20" cy="64.96" r="1.8"/>
<circle cx="256.26" cy="64.94" r="1.8"/>
<circle cx="258.33" cy="64.92" r="1.8"/>
<circle cx="260.40" cy="64.91" r="1.8"/>
<circle cx="262.47" cy="64.90" r="1.8"/>
<circle cx="264.54" cy="64.89" r="1.8"/>
<circle cx="266.61" cy="64.88" r="1.8"/>
<circle cx="268.67" cy="64.88" r="1.8"/>
<circle cx="270.74" cy="64.87" r="1.8"/>
<circle cx="272.81" cy="64.87" r="1.8"/>
<circle cx="274.88" cy="64.86" r="1.8"/>
<circle cx="276.95" cy="64.86" r="1.8"/>
<circle cx="279.02" cy="64.86" r="1.8"/>
<circle cx="281.09" cy="64.86" r="1.8"/>
<circle cx="283.15" cy="64.86" r="1.8"/>
<circle cx="285.22" cy="64.86" r="1.8"/>
<circle cx="287.29" cy="64.86" r="1.8"/>
<circle cx="289.36" cy="64.86" r="1.8"/>
<circle cx="291.43" cy="64.86" r="1.8"/>
<circle cx="293.50" cy="64.85" r="1.8"/>
<circle cx="295.56" cy="64.85" r="1.8"/>
<circle cx="297.63" cy="64.85" r="1.8"/>
<circle cx="299.70" cy="64.85" r="1.8"/>
</g>
<polyline points="51.50,196.65 52.02,196.65 52.53,196.65 53.05,196.65 53.57,196.65 54.09,196.65 54.60,196.65 55.12,196.65 55.64,196.65 56.15,196.65 56.67,196.65 57.19,196.65 57.70,196.65 58.22,196.65 58.74,196.65 59.26,196.64 59.77,196.64 60.29,196.64 60.81,196.64 61.32,196.64 61.84,196.64 62.36,196.64 62.88,196.64 63.39,196.64 63.91,196.64 64.43,196.64 64.94,196.64 65.46,196.64 65.98,196.64 66.50,196.64 67.01,196.64 67.53,196.64 68.05,196.64 68.56,196.64 69.08,196.64 69.60,196.64 70.12,196.64 70.63,196.64 71.15,196.64 71.67,196.64 72.18,196.64 72.70,196.64 73.22,196.64 73.73,196.64 74.25,196.64 74.77,196.64 75.29,196.64 75.80,196.64 76.32,196.64 76.84,196.63 77.35,196.63 77.87,196.63 78.39,196.63 78.91,196.63 79.42,196.63 79.94,196.63 80.46,196.63 80.97,196.63 81.49,196.63 82.01,196.63 82.53,196.62 83.04,196.62 83.56,196.62 84.08,196.62 84.59,196.62 85.11,196.62 85.63,196.62 86.14,196.61 86.66,196.61 87.18,196.61 87.70,196.61 88.21,196.60 88.73,196.60 89.25,196.60 89.76,196.60 90.28,196.59 90.80,196.59 91.32,196.59 91.83,196.58 92.35,196.58 92.87,196.58 93.38,196.57 93.90,196.57 94.42,196.56 94.94,196.56 95.45,196.55 95.97,196.55 96.49,196.54 97.00,196.54 97.52,196.53 98.04,196.52 98.55,196.52 99.07,196.51 99.59,196.50 100.11,196.49 100.62,196.48 101.14,196.47 101.66,196.46 102.17,196.45 102.69,196.44 103.21,196.43 103.73,196.41 104.24,196.40 104.76,196.39 105.28,196.37 105.79,196.35 106.31,196.34 106.83,196.32 107.34,196.30 107.86,196.28 108.38,196.26 108.90,196.23 109.41,196.21 109.93,196.18 110.45,196.16 110.96,196.13 111.48,196.10 112.00,196.07 112.52,196.03 113.03,196.00 113.55,195.96 114.07,195.92 114.58,195.88 115.10,195.83 115.62,195.79 116.14,195.74 116.65,195.68 117.17,195.63 117.69,195.57 118.20,195.51 118.72,195.44 119.24,195.37 119.75,195.30 120.27,195.22 120.79,195.14 121.31,195.06 121.82,194.97 122.34,194.87 122.86,194.77 123.37,194.67 123.89,194.56 124.41,194.44 124.93,194.32 125.44,194.19 125.96,194.05 126.48,193.91 126.99,193.76 127.51,193.60 128.03,193.44 128.55,193.26 129.06,193.08 129.58,192.89 130.10,192.69 130.61,192.48 131.13,192.26 131.65,192.04 132.16,191.80 132.68,191.55 133.20,191.28 133.72,191.01 134.23,190.73 134.75,190.43 135.27,190.12 135.78,189.80 136.30,189.47 136.82,189.12 137.34,188.76 137.85,188.39 138.37,188.00 138.89,187.60 139.40,187.18 139.92,186.75 140.44,186.30 140.96,185.84 141.47,185.37 141.99,184.88 142.51,184.37 143.02,183.86 143.54,183.32 144.06,182.77 144.57,182.21 145.09,181.63 145.61,181.04 146.13,180.43 146.64,179.81 147.16,179.17 147.68,178.52 148.19,177.86 148.71,177.18 149.23,176.49 149.75,175.79 150.26,175.07 150.78,174.35 151.30,173.60 151.81,172.85 152.33,172.09 152.85,171.31 153.37,170.53 153.88,169.73 154.40,168.92 154.92,168.11 155.43,167.28 155.95,166.45 156.47,165.60 156.99,164.75 157.50,163.89 158.02,163.02 158.54,162.14 159.05,161.26 159.57,160.37 160.09,159.47 160.60,158.57 161.12,157.66 161.64,156.74 162.16,155.82 162.67,154.90 163.19,153.97 163.71,153.03 164.22,152.09 164.74,151.15 165.26,150.20 165.78,149.25 166.29,148.30 166.81,147.34 167.33,146.38 167.84,145.41 168.36,144.45 168.88,143.48 169.39,142.51 169.91,141.53 170.43,140.56 170.95,139.58 171.46,138.61 171.98,137.63 172.50,136.65 173.01,135.66 173.53,134.68 174.05,133.70 174.57,132.72 175.08,131.73 175.60,130.75 176.12,129.77 176.63,128.78 177.15,127.80 177.67,126.82 178.19,125.84 178.70,124.85 179.22,123.87 179.74,122.89 180.25,121.92 180.77,120.94 181.29,119.97 181.81,118.99 182.32,118.02 182.84,117.05 183.36,116.09 183.87,115.12 184.39,114.16 184.91,113.20 185.42,112.25 185.94,111.30 186.46,110.35 186.98,109.41 187.49,108.47 188.01,107.53 188.53,106.60 189.04,105.68 189.56,104.76 190.08,103.84 190.60,102.93 191.11,102.03 191.63,101.13 192.15,100.24 192.66,99.36 193.18,98.48 193.70,97.61 194.22,96.75 194.73,95.90 195.25,95.05 195.77,94.22 196.28,93.39 196.80,92.58 197.32,91.77 197.83,90.97 198.35,90.19 198.87,89.41 199.39,88.65 199.90,87.90 200.42,87.15 200.94,86.43 201.45,85.71 201.97,85.01 202.49,84.32 203.01,83.64 203.52,82.98 204.04,82.33 204.56,81.69 205.07,81.07 205.59,80.46 206.11,79.87 206.62,79.29 207.14,78.73 207.66,78.18 208.18,77.64 208.69,77.13 209.21,76.62 209.73,76.13 210.24,75.66 210.76,75.20 211.28,74.75 211.80,74.32 212.31,73.90 212.83,73.50 213.35,73.11 213.86,72.74 214.38,72.38 214.90,72.03 215.42,71.70 215.93,71.38 216.45,71.07 216.97,70.77 217.48,70.49 218.00,70.22 218.52,69.95 219.03,69.70 219.55,69.46 220.07,69.24 220.59,69.02 221.10,68.81 221.62,68.61 222.14,68.42 222.65,68.24 223.17,68.06 223.69,67.90 224.21,67.74 224.72,67.59 225.24,67.45 225.76,67.31 226.27,67.18 226.79,67.06 227.31,66.94 227.83,66.83 228.34,66.73 228.86,66.63 229.38,66.53 229.89,66.44 230.41,66.36 230.93,66.28 231.45,66.20 231.96,66.13 232.48,66.06 233.00,65.99 233.51,65.93 234.03,65.87 234.55,65.82 235.06,65.76 235.58,65.71 236.10,65.67 236.62,65.62 237.13,65.58 237.65,65.54 238.17,65.50 238.68,65.47 239.20,65.43 239.72,65.40 240.24,65.37 240.75,65.34 241.27,65.32 241.79,65.29 242.30,65.27 242.82,65.24 243.34,65.22 243.85,65.20 244.37,65.18 244.89,65.16 245.41,65.15 245.92,65.13 246.44,65.11 246.96,65.10 247.47,65.09 247.99,65.07 248.51,65.06 249.03,65.05 249.54,65.04 250.06,65.03 250.58,65.02 251.09,65.01 251.61,65.00 252.13,64.99 252.65,64.98 253.16,64.98 253.68,64.97 254.20,64.96 254.71,64.96 255.23,64.95 255.75,64.95 256.26,64.94 256.78,64.94 257.30,64.93 257.82,64.93 258.33,64.92 258.85,64.92 259.37,64.92 259.88,64.91 260.40,64.91 260.92,64.91 261.44,64.90 261.95,64.90 262.47,64.90 262.99,64.90 263.50,64.89 264.02,64.89 264.54,64.89 265.06,64.89 265.57,64.88 266.09,64.88 266.61,64.88 267.12,64.88 267.64,64.88 268.16,64.88 268.67,64.88 269.19,64.87 269.71,64.87 270.23,64.87 270.74,64.87 271.26,64.87 271.78,64.87 272.29,64.87 272.81,64.87 273.33,64.87 273.85,64.87 274.36,64.87 274.88,64.86 275.40,64.86 275.91,64.86 276.43,64.86 276.95,64.86 277.47,64.86 277.98,64.86 278.50,64.86 279.02,64.86 279.53,64.86 280.05,64.86 280.57,64.86 281.09,64.86 281.60,64.86 282.12,64.86 282.64,64.86 283.15,64.86 283.67,64.86 284.19,64.86 284.70,64.86 285.22,64.86 285.74,64.86 286.26,64.86 286.77,64.86 287.29,64.86 287.81,64.86 288.32,64.86 288.84,64.86 289.36,64.86 289.88,64.86 290.39,64.86 290.91,64.86 291.43,64.86 291.94,64.86 292.46,64.85 292.98,64.85 293.50,64.85 294.01,64.85 294.53,64.85 295.05,64.85 295.56,64.85 296.08,64.85 296.60,64.85 297.11,64.85 297.63,64.85 298.15,64.85 298.67,64.85 299.18,64.85 299.70,64.85" fill="none" stroke="#9c0a0a" stroke-width="1.1"/>
<g fill="#111">
<circle cx="51.50" cy="225.96" r="1.8"/>
<circle cx="53.57" cy="225.96" r="1.8"/>
<circle cx="55.64" cy="225.96" r="1.8"/>
<circle cx="57.70" cy="225.95" r="1.8"/>
<circle cx="59.77" cy="225.95" r="1.8"/>
<circle cx="61.84" cy="225.95" r="1.8"/>
<circle cx="63.91" cy="225.95" r="1.8"/>
<circle cx="65.98" cy="225.94" r="1.8"/>
<circle cx="68.05" cy="225.94" r="1.8"/>
<circle cx="70.12" cy="225.93" r="1.8"/>
<circle cx="72.18" cy="225.93" r="1.8"/>
<circle cx="74.25" cy="225.92" r="1.8"/>
<circle cx="76.32" cy="225.90" r="1.8"/>
<circle cx="78.39" cy="225.89" r="1.8"/>
<circle cx="80.46" cy="225.87" r="1.8"/>
<circle cx="82.53" cy="225.85" r="1.8"/>
<circle cx="84.59" cy="225.82" r="1.8"/>
<circle cx="86.66" cy="225.78" r="1.8"/>
<circle cx="88.73" cy="225.74" r="1.8"/>
<circle cx="90.80" cy="225.68" r="1.8"/>
<circle cx="92.87" cy="225.61" r="1.8"/>
<circle cx="94.94" cy="225.52" r="1.8"/>
<circle cx="97.00" cy="225.40" r="1.8"/>
<circle cx="99.07" cy="225.26" r="1.8"/>
<circle cx="101.14" cy="225.08" r="1.8"/>
<circle cx="103.21" cy="224.86" r="1.8"/>
<circle cx="105.28" cy="224.59" r="1.8"/>
<circle cx="107.34" cy="224.25" r="1.8"/>
<circle cx="109.41" cy="223.83" r="1.8"/>
<circle cx="111.48" cy="223.32" r="1.8"/>
<circle cx="113.55" cy="222.70" r="1.8"/>
<circle cx="115.62" cy="221.94" r="1.8"/>
<circle cx="117.69" cy="221.03" r="1.8"/>
<circle cx="119.75" cy="219.95" r="1.8"/>
<circle cx="121.82" cy="218.67" r="1.8"/>
<circle cx="123.89" cy="217.18" r="1.8"/>
<circle cx="125.96" cy="215.47" r="1.8"/>
<circle cx="128.03" cy="213.52" r="1.8"/>
<circle cx="130.10" cy="211.33" r="1.8"/>
<circle cx="132.16" cy="208.91" r="1.8"/>
<circle cx="134.23" cy="206.26" r="1.8"/>
<circle cx="136.30" cy="203.40" r="1.8"/>
<circle cx="138.37" cy="200.35" r="1.8"/>
<circle cx="140.44" cy="197.12" r="1.8"/>
<circle cx="142.51" cy="193.74" r="1.8"/>
<circle cx="144.57" cy="190.23" r="1.8"/>
<circle cx="146.64" cy="186.60" r="1.8"/>
<circle cx="148.71" cy="182.88" r="1.8"/>
<circle cx="150.78" cy="179.08" r="1.8"/>
<circle cx="152.85" cy="175.21" r="1.8"/>
<circle cx="154.92" cy="171.29" r="1.8"/>
<circle cx="156.99" cy="167.33" r="1.8"/>
<circle cx="159.05" cy="163.34" r="1.8"/>
<circle cx="161.12" cy="159.31" r="1.8"/>
<circle cx="163.19" cy="155.27" r="1.8"/>
<circle cx="165.26" cy="151.20" r="1.8"/>
<circle cx="167.33" cy="147.13" r="1.8"/>
<circle cx="169.39" cy="143.04" r="1.8"/>
<circle cx="171.46" cy="138.95" r="1.8"/>
<circle cx="173.53" cy="134.85" r="1.8"/>
<circle cx="175.60" cy="130.75" r="1.8"/>
<circle cx="177.67" cy="126.65" r="1.8"/>
<circle cx="179.74" cy="122.55" r="1.8"/>
<circle cx="181.81" cy="118.46" r="1.8"/>
<circle cx="183.87" cy="114.37" r="1.8"/>
<circle cx="185.94" cy="110.30" r="1.8"/>
<circle cx="188.01" cy="106.23" r="1.8"/>
<circle cx="190.08" cy="102.19" r="1.8"/>
<circle cx="192.15" cy="98.16" r="1.8"/>
<circle cx="194.22" cy="94.17" r="1.8"/>
<circle cx="196.28" cy="90.21" r="1.8"/>
<circle cx="198.35" cy="86.29" r="1.8"/>
<circle cx="200.42" cy="82.42" r="1.8"/>
<circle cx="202.49" cy="78.62" r="1.8"/>
<circle cx="204.56" cy="74.90" r="1.8"/>
<circle cx="206.62" cy="71.27" r="1.8"/>
<circle cx="208.69" cy="67.76" r="1.8"/>
<circle cx="210.76" cy="64.38" r="1.8"/>
<circle cx="212.83" cy="61.15" r="1.8"/>
<circle cx="214.90" cy="58.10" r="1.8"/>
<circle cx="216.97" cy="55.24" r="1.8"/>
<circle cx="219.03" cy="52.59" r="1.8"/>
<circle cx="221.10" cy="50.17" r="1.8"/>
<circle cx="223.17" cy="47.98" r="1.8"/>
<circle cx="225.24" cy="46.03" r="1.8"/>
<circle cx="227.31" cy="44.32" r="1.8"/>
<circle cx="229.38" cy="42.83" r="1.8"/>
<circle cx="231.45" cy="41.55" r="1.8"/>
<circle cx="233.51" cy="40.47" r="1.8"/>
<circle cx="235.58" cy="39.56" r="1.8"/>
<circle cx="237.65" cy="38.80" r="1.8"/>
<circle cx="239.72" cy="38.18" r="1.8"/>
<circle cx="241.79" cy="37.67" r="1.8"/>
<circle cx="243.85" cy="37.25" r="1.8"/>
<circle cx="245.92" cy="36.91" r="1.8"/>
<circle cx="247.99" cy="36.64" r="1.8"/>
<circle cx="250.06" cy="36.42" r="1.8"/>
<circle cx="252.13" cy="36.24" r="1.8"/>
<circle cx="254.20" cy="36.10" r="1.8"/>
<circle cx="256.26" cy="35.98" r="1.8"/>
<circle cx="258.33" cy="35.89" r="1.8"/>
<circle cx="260.40" cy="35.82" r="1.8"/>
<circle cx="262.47" cy="35.76" r="1.8"/>
<circle cx="264.54" cy="35.72" r="1.8"/>
<circle cx="266.61" cy="35.68" r="1.8"/>
<circle cx="268.67" cy="35.65" r="1.8"/>
<circle cx="270.74" cy="35.63" r="1.8"/>
<circle cx="272.81" cy="35.61" r="1.8"/>
<circle cx="274.88" cy="35.60" r="1.8"/>
<circle cx="276.95" cy="35.58" r="1.8"/>
<circle cx="279.02" cy="35.57" r="1.8"/>
<circle cx="281.09" cy="35.57" r="1.8"/>
<circle cx="283.15" cy="35.56" r="1.8"/>
<circle cx="285.22" cy="35.56" r="1.8"/>
<circle cx="287.29" cy="35.55" r="1.8"/>
<circle cx="289.36" cy="35.55" r="1.8"/>
<circle cx="291.43" cy="35.55" r="1.8"/>
<circle cx="293.50" cy="35.55" r="1.8"/>
<circle cx="295.56" cy="35.54" r="1.8"/>
<circle cx="297.63" cy="35.54" r="1.8"/>
<circle cx="299.70" cy="35.54" r="1.8"/>
</g>
<polyline points="51.50,225.96 52.02,225.96 52.53,225.96 53.05,225.96 53.57,225.96 54.09,225.96 54.60,225.96 55.12,225.96 55.64,225.96 56.15,225.95 56.67,225.95 57.19,225.95 57.70,225.95 58.22,225.95 58.74,225.95 59.26,225.95 59.77,225.95 60.29,225.95 60.81,225.95 61.32,225.95 61.84,225.95 62.36,225.95 62.88,225.95 63.39,225.95 63.91,225.95 64.43,225.95 64.94,225.94 65.46,225.94 65.98,225.94 66.50,225.94 67.01,225.94 67.53,225.94 68.05,225.94 68.56,225.94 69.08,225.94 69.60,225.93 70.12,225.93 70.63,225.93 71.15,225.93 71.67,225.93 72.18,225.93 72.70,225.92 73.22,225.92 73.73,225.92 74.25,225.92 74.77,225.91 75.29,225.91 75.80,225.91 76.32,225.90 76.84,225.90 77.35,225.90 77.87,225.89 78.39,225.89 78.91,225.89 79.42,225.88 79.94,225.88 80.46,225.87 80.97,225.87 81.49,225.86 82.01,225.85 82.53,225.85 83.04,225.84 83.56,225.83 84.08,225.83 84.59,225.82 85.11,225.81 85.63,225.80 86.14,225.79 86.66,225.78 87.18,225.77 87.70,225.76 88.21,225.75 88.73,225.74 89.25,225.72 89.76,225.71 90.28,225.69 90.80,225.68 91.32,225.66 91.83,225.64 92.35,225.63 92.87,225.61 93.38,225.59 93.90,225.56 94.42,225.54 94.94,225.52 95.45,225.49 95.97,225.46 96.49,225.43 97.00,225.40 97.52,225.37 98.04,225.34 98.55,225.30 99.07,225.26 99.59,225.22 100.11,225.18 100.62,225.13 101.14,225.08 101.66,225.03 102.17,224.98 102.69,224.92 103.21,224.86 103.73,224.80 104.24,224.73 104.76,224.66 105.28,224.59 105.79,224.51 106.31,224.43 106.83,224.34 107.34,224.25 107.86,224.15 108.38,224.05 108.90,223.95 109.41,223.83 109.93,223.71 110.45,223.59 110.96,223.46 111.48,223.32 112.00,223.18 112.52,223.02 113.03,222.86 113.55,222.70 114.07,222.52 114.58,222.34 115.10,222.14 115.62,221.94 116.14,221.73 116.65,221.51 117.17,221.27 117.69,221.03 118.20,220.78 118.72,220.51 119.24,220.23 119.75,219.95 120.27,219.65 120.79,219.33 121.31,219.01 121.82,218.67 122.34,218.32 122.86,217.95 123.37,217.57 123.89,217.18 124.41,216.77 124.93,216.35 125.44,215.92 125.96,215.47 126.48,215.00 126.99,214.52 127.51,214.03 128.03,213.52 128.55,212.99 129.06,212.45 129.58,211.90 130.10,211.33 130.61,210.75 131.13,210.15 131.65,209.54 132.16,208.91 132.68,208.27 133.20,207.61 133.72,206.94 134.23,206.26 134.75,205.57 135.27,204.86 135.78,204.14 136.30,203.40 136.82,202.66 137.34,201.90 137.85,201.13 138.37,200.35 138.89,199.56 139.40,198.75 139.92,197.94 140.44,197.12 140.96,196.29 141.47,195.45 141.99,194.60 142.51,193.74 143.02,192.87 143.54,192.00 144.06,191.11 144.57,190.23 145.09,189.33 145.61,188.42 146.13,187.51 146.64,186.60 147.16,185.68 147.68,184.75 148.19,183.82 148.71,182.88 149.23,181.93 149.75,180.99 150.26,180.03 150.78,179.08 151.30,178.12 151.81,177.15 152.33,176.18 152.85,175.21 153.37,174.24 153.88,173.26 154.40,172.28 154.92,171.29 155.43,170.31 155.95,169.32 156.47,168.33 156.99,167.33 157.50,166.34 158.02,165.34 158.54,164.34 159.05,163.34 159.57,162.33 160.09,161.33 160.60,160.32 161.12,159.31 161.64,158.30 162.16,157.29 162.67,156.28 163.19,155.27 163.71,154.25 164.22,153.24 164.74,152.22 165.26,151.20 165.78,150.19 166.29,149.17 166.81,148.15 167.33,147.13 167.84,146.11 168.36,145.08 168.88,144.06 169.39,143.04 169.91,142.02 170.43,140.99 170.95,139.97 171.46,138.95 171.98,137.92 172.50,136.90 173.01,135.87 173.53,134.85 174.05,133.83 174.57,132.80 175.08,131.78 175.60,130.75 176.12,129.72 176.63,128.70 177.15,127.67 177.67,126.65 178.19,125.63 178.70,124.60 179.22,123.58 179.74,122.55 180.25,121.53 180.77,120.51 181.29,119.48 181.81,118.46 182.32,117.44 182.84,116.42 183.36,115.39 183.87,114.37 184.39,113.35 184.91,112.33 185.42,111.31 185.94,110.30 186.46,109.28 186.98,108.26 187.49,107.25 188.01,106.23 188.53,105.22 189.04,104.21 189.56,103.20 190.08,102.19 190.60,101.18 191.11,100.17 191.63,99.17 192.15,98.16 192.66,97.16 193.18,96.16 193.70,95.16 194.22,94.17 194.73,93.17 195.25,92.18 195.77,91.19 196.28,90.21 196.80,89.22 197.32,88.24 197.83,87.26 198.35,86.29 198.87,85.32 199.39,84.35 199.90,83.38 200.42,82.42 200.94,81.47 201.45,80.51 201.97,79.57 202.49,78.62 203.01,77.68 203.52,76.75 204.04,75.82 204.56,74.90 205.07,73.99 205.59,73.08 206.11,72.17 206.62,71.27 207.14,70.39 207.66,69.50 208.18,68.63 208.69,67.76 209.21,66.90 209.73,66.05 210.24,65.21 210.76,64.38 211.28,63.56 211.80,62.75 212.31,61.94 212.83,61.15 213.35,60.37 213.86,59.60 214.38,58.84 214.90,58.10 215.42,57.36 215.93,56.64 216.45,55.93 216.97,55.24 217.48,54.56 218.00,53.89 218.52,53.23 219.03,52.59 219.55,51.96 220.07,51.35 220.59,50.75 221.10,50.17 221.62,49.60 222.14,49.05 222.65,48.51 223.17,47.98 223.69,47.47 224.21,46.98 224.72,46.50 225.24,46.03 225.76,45.58 226.27,45.15 226.79,44.73 227.31,44.32 227.83,43.93 228.34,43.55 228.86,43.18 229.38,42.83 229.89,42.49 230.41,42.17 230.93,41.85 231.45,41.55 231.96,41.27 232.48,40.99 233.00,40.72 233.51,40.47 234.03,40.23 234.55,39.99 235.06,39.77 235.58,39.56 236.10,39.36 236.62,39.16 237.13,38.98 237.65,38.80 238.17,38.64 238.68,38.48 239.20,38.32 239.72,38.18 240.24,38.04 240.75,37.91 241.27,37.79 241.79,37.67 242.30,37.55 242.82,37.45 243.34,37.35 243.85,37.25 244.37,37.16 244.89,37.07 245.41,36.99 245.92,36.91 246.44,36.84 246.96,36.77 247.47,36.70 247.99,36.64 248.51,36.58 249.03,36.52 249.54,36.47 250.06,36.42 250.58,36.37 251.09,36.32 251.61,36.28 252.13,36.24 252.65,36.20 253.16,36.16 253.68,36.13 254.20,36.10 254.71,36.07 255.23,36.04 255.75,36.01 256.26,35.98 256.78,35.96 257.30,35.94 257.82,35.91 258.33,35.89 258.85,35.87 259.37,35.86 259.88,35.84 260.40,35.82 260.92,35.81 261.44,35.79 261.95,35.78 262.47,35.76 262.99,35.75 263.50,35.74 264.02,35.73 264.54,35.72 265.06,35.71 265.57,35.70 266.09,35.69 266.61,35.68 267.12,35.67 267.64,35.67 268.16,35.66 268.67,35.65 269.19,35.65 269.71,35.64 270.23,35.63 270.74,35.63 271.26,35.62 271.78,35.62 272.29,35.61 272.81,35.61 273.33,35.61 273.85,35.60 274.36,35.60 274.88,35.60 275.40,35.59 275.91,35.59 276.43,35.59 276.95,35.58 277.47,35.58 277.98,35.58 278.50,35.58 279.02,35.57 279.53,35.57 280.05,35.57 280.57,35.57 281.09,35.57 281.60,35.57 282.12,35.56 282.64,35.56 283.15,35.56 283.67,35.56 284.19,35.56 284.70,35.56 285.22,35.56 285.74,35.56 286.26,35.56 286.77,35.55 287.29,35.55 287.81,35.55 288.32,35.55 288.84,35.55 289.36,35.55 289.88,35.55 290.39,35.55 290.91,35.55 291.43,35.55 291.94,35.55 292.46,35.55 292.98,35.55 293.50,35.55 294.01,35.55 294.53,35.55 295.05,35.55 295.56,35.54 296.08,35.54 296.60,35.54 297.11,35.54 297.63,35.54 298.15,35.54 298.67,35.54 299.18,35.54 299.70,35.54" fill="none" stroke="#9c0a0a" stroke-width="1.1"/>
<g stroke="#3a3a3a" stroke-width="1">
<line x1="72.18" y1="255" x2="72.18" y2="252"/>
<line x1="72.18" y1="6.5" x2="72.18" y2="9.5"/>
<line x1="92.87" y1="255" x2="92.87" y2="252"/>
<line x1="92.87" y1="6.5" x2="92.87" y2="9.5"/>
<line x1="113.55" y1="255" x2="113.55" y2="250"/>
<line x1="113.55" y1="6.5" x2="113.55" y2="11.5"/>
<line x1="134.23" y1="255" x2="134.23" y2="252"/>
<line x1="134.23" y1="6.5" x2="134.23" y2="9.5"/>
<line x1="154.92" y1="255" x2="154.92" y2="252"/>
<line x1="154.92" y1="6.5" x2="154.92" y2="9.5"/>
<line x1="175.6" y1="255" x2="175.6" y2="250"/>
<line x1="175.6" y1="6.5" x2="175.6" y2="11.5"/>
<line x1="196.28" y1="255" x2="196.28" y2="252"/>
<line x1="196.28" y1="6.5" x2="196.28" y2="9.5"/>
<line x1="216.97" y1="255" x2="216.97" y2="252"/>
<line x1="216.97" y1="6.5" x2="216.97" y2="9.5"/>
<line x1="237.65" y1="255" x2="237.65" y2="250"/>
<line x1="237.65" y1="6.5" x2="237.65" y2="11.5"/>
<line x1="258.33" y1="255" x2="258.33" y2="252"/>
<line x1="258.33" y1="6.5" x2="258.33" y2="9.5"/>
<line x1="279.02" y1="255" x2="279.02" y2="252"/>
<line x1="279.02" y1="6.5" x2="279.02" y2="9.5"/>
<line x1="51.5" y1="255" x2="56.5" y2="255"/>
<line x1="299.7" y1="255" x2="294.7" y2="255"/>
<line x1="51.5" y1="242.53" x2="54.5" y2="242.53"/>
<line x1="299.7" y1="242.53" x2="296.7" y2="242.53"/>
<line x1="51.5" y1="235.24" x2="54.5" y2="235.24"/>
<line x1="299.7" y1="235.24" x2="296.7" y2="235.24"/>
<line x1="51.5" y1="230.06" x2="54.5" y2="230.06"/>
<line x1="299.7" y1="230.06" x2="296.7" y2="230.06"/>
<line x1="51.5" y1="226.05" x2="54.5" y2="226.05"/>
<line x1="299.7" y1="226.05" x2="296.7" y2="226.05"/>
<line x1="51.5" y1="222.77" x2="54.5" y2="222.77"/>
<line x1="299.7" y1="222.77" x2="296.7" y2="222.77"/>
<line x1="51.5" y1="220" x2="54.5" y2="220"/>
<line x1="299.7" y1="220" x2="296.7" y2="220"/>
<line x1="51.5" y1="217.6" x2="54.5" y2="217.6"/>
<line x1="299.7" y1="217.6" x2="296.7" y2="217.6"/>
<line x1="51.5" y1="215.48" x2="54.5" y2="215.48"/>
<line x1="299.7" y1="215.48" x2="296.7" y2="215.48"/>
<line x1="51.5" y1="213.58" x2="56.5" y2="213.58"/>
<line x1="299.7" y1="213.58" x2="294.7" y2="213.58"/>
<line x1="51.5" y1="201.12" x2="54.5" y2="201.12"/>
<line x1="299.7" y1="201.12" x2="296.7" y2="201.12"/>
<line x1="51.5" y1="193.82" x2="54.5" y2="193.82"/>
<line x1="299.7" y1="193.82" x2="296.7" y2="193.82"/>
<line x1="51.5" y1="188.65" x2="54.5" y2="188.65"/>
<line x1="299.7" y1="188.65" x2="296.7" y2="188.65"/>
<line x1="51.5" y1="184.63" x2="54.5" y2="184.63"/>
<line x1="299.7" y1="184.63" x2="296.7" y2="184.63"/>
<line x1="51.5" y1="181.35" x2="54.5" y2="181.35"/>
<line x1="299.7" y1="181.35" x2="296.7" y2="181.35"/>
<line x1="51.5" y1="178.58" x2="54.5" y2="178.58"/>
<line x1="299.7" y1="178.58" x2="296.7" y2="178.58"/>
<line x1="51.5" y1="176.18" x2="54.5" y2="176.18"/>
<line x1="299.7" y1="176.18" x2="296.7" y2="176.18"/>
<line x1="51.5" y1="174.06" x2="54.5" y2="174.06"/>
<line x1="299.7" y1="174.06" x2="296.7" y2="174.06"/>
<line x1="51.5" y1="172.17" x2="56.5" y2="172.17"/>
<line x1="299.7" y1="172.17" x2="294.7" y2="172.17"/>
<line x1="51.5" y1="159.7" x2="54.5" y2="159.7"/>
<line x1="299.7" y1="159.7" x2="296.7" y2="159.7"/>
<line x1="51.5" y1="152.41" x2="54.5" y2="152.41"/>
<line x1="299.7" y1="152.41" x2="296.7" y2="152.41"/>
<line x1="51.5" y1="147.23" x2="54.5" y2="147.23"/>
<line x1="299.7" y1="147.23" x2="296.7" y2="147.23"/>
<line x1="51.5" y1="143.22" x2="54.5" y2="143.22"/>
<line x1="299.7" y1="143.22" x2="296.7" y2="143.22"/>
<line x1="51.5" y1="139.94" x2="54.5" y2="139.94"/>
<line x1="299.7" y1="139.94" x2="296.7" y2="139.94"/>
<line x1="51.5" y1="137.17" x2="54.5" y2="137.17"/>
<line x1="299.7" y1="137.17" x2="296.7" y2="137.17"/>
<line x1="51.5" y1="134.76" x2="54.5" y2="134.76"/>
<line x1="299.7" y1="134.76" x2="296.7" y2="134.76"/>
<line x1="51.5" y1="132.65" x2="54.5" y2="132.65"/>
<line x1="299.7" y1="132.65" x2="296.7" y2="132.65"/>
<line x1="51.5" y1="130.75" x2="56.5" y2="130.75"/>
<line x1="299.7" y1="130.75" x2="294.7" y2="130.75"/>
<line x1="51.5" y1="118.28" x2="54.5" y2="118.28"/>
<line x1="299.7" y1="118.28" x2="296.7" y2="118.28"/>
<line x1="51.5" y1="110.99" x2="54.5" y2="110.99"/>
<line x1="299.7" y1="110.99" x2="296.7" y2="110.99"/>
<line x1="51.5" y1="105.81" x2="54.5" y2="105.81"/>
<line x1="299.7" y1="105.81" x2="296.7" y2="105.81"/>
<line x1="51.5" y1="101.8" x2="54.5" y2="101.8"/>
<line x1="299.7" y1="101.8" x2="296.7" y2="101.8"/>
<line x1="51.5" y1="98.52" x2="54.5" y2="98.52"/>
<line x1="299.7" y1="98.52" x2="296.7" y2="98.52"/>
<line x1="51.5" y1="95.75" x2="54.5" y2="95.75"/>
<line x1="299.7" y1="95.75" x2="296.7" y2="95.75"/>
<line x1="51.5" y1="93.35" x2="54.5" y2="93.35"/>
<line x1="299.7" y1="93.35" x2="296.7" y2="93.35"/>
<line x1="51.5" y1="91.23" x2="54.5" y2="91.23"/>
<line x1="299.7" y1="91.23" x2="296.7" y2="91.23"/>
<line x1="51.5" y1="89.33" x2="56.5" y2="89.33"/>
<line x1="299.7" y1="89.33" x2="294.7" y2="89.33"/>
<line x1="51.5" y1="76.87" x2="54.5" y2="76.87"/>
<line x1="299.7" y1="76.87" x2="296.7" y2="76.87"/>
<line x1="51.5" y1="69.57" x2="54.5" y2="69.57"/>
<line x1="299.7" y1="69.57" x2="296.7" y2="69.57"/>
<line x1="51.5" y1="64.4" x2="54.5" y2="64.4"/>
<line x1="299.7" y1="64.4" x2="296.7" y2="64.4"/>
<line x1="51.5" y1="60.38" x2="54.5" y2="60.38"/>
<line x1="299.7" y1="60.38" x2="296.7" y2="60.38"/>
<line x1="51.5" y1="57.1" x2="54.5" y2="57.1"/>
<line x1="299.7" y1="57.1" x2="296.7" y2="57.1"/>
<line x1="51.5" y1="54.33" x2="54.5" y2="54.33"/>
<line x1="299.7" y1="54.33" x2="296.7" y2="54.33"/>
<line x1="51.5" y1="51.93" x2="54.5" y2="51.93"/>
<line x1="299.7" y1="51.93" x2="296.7" y2="51.93"/>
<line x1="51.5" y1="49.81" x2="54.5" y2="49.81"/>
<line x1="299.7" y1="49.81" x2="296.7" y2="49.81"/>
<line x1="51.5" y1="47.92" x2="56.5" y2="47.92"/>
<line x1="299.7" y1="47.92" x2="294.7" y2="47.92"/>
<line x1="51.5" y1="35.45" x2="54.5" y2="35.45"/>
<line x1="299.7" y1="35.45" x2="296.7" y2="35.45"/>
<line x1="51.5" y1="28.16" x2="54.5" y2="28.16"/>
<line x1="299.7" y1="28.16" x2="296.7" y2="28.16"/>
<line x1="51.5" y1="22.98" x2="54.5" y2="22.98"/>
<line x1="299.7" y1="22.98" x2="296.7" y2="22.98"/>
<line x1="51.5" y1="18.97" x2="54.5" y2="18.97"/>
<line x1="299.7" y1="18.97" x2="296.7" y2="18.97"/>
<line x1="51.5" y1="15.69" x2="54.5" y2="15.69"/>
<line x1="299.7" y1="15.69" x2="296.7" y2="15.69"/>
<line x1="51.5" y1="12.92" x2="54.5" y2="12.92"/>
<line x1="299.7" y1="12.92" x2="296.7" y2="12.92"/>
<line x1="51.5" y1="10.51" x2="54.5" y2="10.51"/>
<line x1="299.7" y1="10.51" x2="296.7" y2="10.51"/>
<line x1="51.5" y1="8.4" x2="54.5" y2="8.4"/>
<line x1="299.7" y1="8.4" x2="296.7" y2="8.4"/>
<line x1="51.5" y1="6.5" x2="56.5" y2="6.5"/>
<line x1="299.7" y1="6.5" x2="294.7" y2="6.5"/>
</g>
<rect x="51.5" y="6.5" width="248.2" height="248.5" fill="none" stroke="#404040" stroke-width="1.15"/>
<text x="21.6" y="13.6" font-size="14" text-anchor="start" font-family='"Liberation Sans", sans-serif' font-style="normal" fill="#111" >10</text>
<text x="38.7" y="7.7" font-size="9" text-anchor="start" font-family='"Liberation Sans", sans-serif' font-style="normal" fill="#111" >3</text>
<text x="21.6" y="56.8" font-size="14" text-anchor="start" font-family='"Liberation Sans", sans-serif' font-style="normal" fill="#111" >10</text>
<text x="38.7" y="50.8" font-size="9" text-anchor="start" font-family='"Liberation Sans", sans-serif' font-style="normal" fill="#111" >2</text>
<text x="21.6" y="97.4" font-size="14" text-anchor="start" font-family='"Liberation Sans", sans-serif' font-style="normal" fill="#111" >10</text>
<text x="39.2" y="91.5" font-size="9" text-anchor="start" font-family='"Liberation Sans", sans-serif' font-style="normal" fill="#111" >1</text>
<text x="21.6" y="138.4" font-size="14" text-anchor="start" font-family='"Liberation Sans", sans-serif' font-style="normal" fill="#111" >10</text>
<text x="39.1" y="132.4" font-size="9" text-anchor="start" font-family='"Liberation Sans", sans-serif' font-style="normal" fill="#111" >0</text>
<text x="21.6" y="178.7" font-size="14" text-anchor="start" font-family='"Liberation Sans", sans-serif' font-style="normal" fill="#111" >10</text>
<text x="36.3" y="172.7" font-size="9" text-anchor="start" font-family='"Liberation Sans", sans-serif' font-style="normal" fill="#111" >−1</text>
<text x="21.6" y="221.5" font-size="14" text-anchor="start" font-family='"Liberation Sans", sans-serif' font-style="normal" fill="#111" >10</text>
<text x="36.3" y="215.8" font-size="9" text-anchor="start" font-family='"Liberation Sans", sans-serif' font-style="normal" fill="#111" >−2</text>
<text x="21.6" y="261.2" font-size="14" text-anchor="start" font-family='"Liberation Sans", sans-serif' font-style="normal" fill="#111" >10</text>
<text x="36.3" y="255.2" font-size="9" text-anchor="start" font-family='"Liberation Sans", sans-serif' font-style="normal" fill="#111" >−3</text>
<text x="39" y="271" font-size="14" text-anchor="start" font-family='"Liberation Sans", sans-serif' font-style="normal" fill="#111" >10</text>
<text x="53.9" y="264.9" font-size="9" text-anchor="start" font-family='"Liberation Sans", sans-serif' font-style="normal" fill="#111" >−6</text>
<text x="100" y="271" font-size="14" text-anchor="start" font-family='"Liberation Sans", sans-serif' font-style="normal" fill="#111" >10</text>
<text x="114.1" y="264.9" font-size="9" text-anchor="start" font-family='"Liberation Sans", sans-serif' font-style="normal" fill="#111" >−3</text>
<text x="162.8" y="271" font-size="14" text-anchor="start" font-family='"Liberation Sans", sans-serif' font-style="normal" fill="#111" >10</text>
<text x="178.3" y="264.9" font-size="9" text-anchor="start" font-family='"Liberation Sans", sans-serif' font-style="normal" fill="#111" >0</text>
<text x="226.9" y="271" font-size="14" text-anchor="start" font-family='"Liberation Sans", sans-serif' font-style="normal" fill="#111" >10</text>
<text x="241.3" y="264.9" font-size="9" text-anchor="start" font-family='"Liberation Sans", sans-serif' font-style="normal" fill="#111" >3</text>
<text x="290.6" y="271" font-size="14" text-anchor="start" font-family='"Liberation Sans", sans-serif' font-style="normal" fill="#111" >10</text>
<text x="305.7" y="264.9" font-size="9" text-anchor="start" font-family='"Liberation Sans", sans-serif' font-style="normal" fill="#111" >6</text>
<text x="301.2" y="136.49" font-size="10.5" text-anchor="start" font-family='"Liberation Sans", sans-serif' font-style="normal" fill="#111" >0.01</text>
<text x="301.2" y="127.66" font-size="10.5" text-anchor="start" font-family='"Liberation Sans", sans-serif' font-style="normal" fill="#111" >0.25</text>
<text x="301.2" y="117.09" font-size="10.5" text-anchor="start" font-family='"Liberation Sans", sans-serif' font-style="normal" fill="#111" >0.50</text>
<text x="301.2" y="105.65" font-size="10.5" text-anchor="start" font-family='"Liberation Sans", sans-serif' font-style="normal" fill="#111" >0.70</text>
<text x="301.2" y="91.66" font-size="10.5" text-anchor="start" font-family='"Liberation Sans", sans-serif' font-style="normal" fill="#111" >0.85</text>
<text x="301.2" y="70.95" font-size="10.5" text-anchor="start" font-family='"Liberation Sans", sans-serif' font-style="normal" fill="#111" >0.95</text>
<text x="301.2" y="41.64" font-size="10.5" text-anchor="start" font-family='"Liberation Sans", sans-serif' font-style="normal" fill="#111" >0.99</text>
<text transform="translate(315.5,253.8) rotate(-90)" font-size="10.5" font-family='"Liberation Sans", sans-serif' fill="#111">Inclusion area fraction, <tspan font-family='"Liberation Serif", serif' font-style="italic">c</tspan></text>
<text transform="translate(13.3,173.8) rotate(-90)" font-size="18" font-family='"Liberation Serif", serif' font-style="italic" fill="#111">R<tspan font-size="12.5" dy="5.5">eff</tspan><tspan dy="-5.5" font-style="normal"> / </tspan>R<tspan font-size="12.5" dy="5.5" font-style="normal">1</tspan></text>
<text x="144" y="290.5" font-size="18" font-family='"Liberation Serif", serif' font-style="italic" fill="#111">R<tspan font-size="12.5" dx="1.0" dy="5" font-style="normal">2</tspan><tspan dy="-5" dx="1.0"> / </tspan>R<tspan font-size="12.5" dx="0" dy="5" font-style="normal">1</tspan></text>
<text x="59.4" y="31.1" font-size="22" text-anchor="start" font-family='"Liberation Sans", sans-serif' font-style="normal" fill="#111" >a)</text>
<text x="258.2" y="227.7" font-size="10.3" text-anchor="end" font-family='"Liberation Sans", sans-serif' font-style="normal" fill="#111" >FEM model</text>
<text x="258.8" y="239.6" font-size="10.3" text-anchor="end" font-family='"Liberation Sans", sans-serif' font-style="normal" fill="#111" >Eq. (6)</text>
<circle cx="269.9" cy="225.8" r="1.6" fill="#111"/>
<circle cx="276.0" cy="225.8" r="1.6" fill="#111"/>
<circle cx="281.9" cy="225.8" r="1.6" fill="#111"/>
<line x1="268.2" y1="238.6" x2="283.9" y2="238.6" stroke="#c83232" stroke-width="1.2"/>
<g stroke="#3a3a3a" stroke-width="1">
<line x1="426.14" y1="255" x2="426.14" y2="250"/>
<line x1="426.14" y1="6.5" x2="426.14" y2="11.5"/>
<line x1="475.78" y1="255" x2="475.78" y2="250"/>
<line x1="475.78" y1="6.5" x2="475.78" y2="11.5"/>
<line x1="525.42" y1="255" x2="525.42" y2="250"/>
<line x1="525.42" y1="6.5" x2="525.42" y2="11.5"/>
<line x1="575.06" y1="255" x2="575.06" y2="250"/>
<line x1="575.06" y1="6.5" x2="575.06" y2="11.5"/>
<line x1="376.5" y1="6.5" x2="381.5" y2="6.5"/>
<line x1="624.7" y1="6.5" x2="619.7" y2="6.5"/>
<line x1="376.5" y1="255" x2="381.5" y2="255"/>
<line x1="624.7" y1="255" x2="619.7" y2="255"/>
<line x1="376.5" y1="217.6" x2="379.5" y2="217.6"/>
<line x1="624.7" y1="217.6" x2="621.7" y2="217.6"/>
<line x1="376.5" y1="195.72" x2="379.5" y2="195.72"/>
<line x1="624.7" y1="195.72" x2="621.7" y2="195.72"/>
<line x1="376.5" y1="180.19" x2="379.5" y2="180.19"/>
<line x1="624.7" y1="180.19" x2="621.7" y2="180.19"/>
<line x1="376.5" y1="168.15" x2="379.5" y2="168.15"/>
<line x1="624.7" y1="168.15" x2="621.7" y2="168.15"/>
<line x1="376.5" y1="158.31" x2="379.5" y2="158.31"/>
<line x1="624.7" y1="158.31" x2="621.7" y2="158.31"/>
<line x1="376.5" y1="150" x2="379.5" y2="150"/>
<line x1="624.7" y1="150" x2="621.7" y2="150"/>
<line x1="376.5" y1="142.79" x2="379.5" y2="142.79"/>
<line x1="624.7" y1="142.79" x2="621.7" y2="142.79"/>
<line x1="376.5" y1="136.44" x2="379.5" y2="136.44"/>
<line x1="624.7" y1="136.44" x2="621.7" y2="136.44"/>
<line x1="376.5" y1="130.75" x2="381.5" y2="130.75"/>
<line x1="624.7" y1="130.75" x2="619.7" y2="130.75"/>
<line x1="376.5" y1="93.35" x2="379.5" y2="93.35"/>
<line x1="624.7" y1="93.35" x2="621.7" y2="93.35"/>
<line x1="376.5" y1="71.47" x2="379.5" y2="71.47"/>
<line x1="624.7" y1="71.47" x2="621.7" y2="71.47"/>
<line x1="376.5" y1="55.94" x2="379.5" y2="55.94"/>
<line x1="624.7" y1="55.94" x2="621.7" y2="55.94"/>
<line x1="376.5" y1="43.9" x2="379.5" y2="43.9"/>
<line x1="624.7" y1="43.9" x2="621.7" y2="43.9"/>
<line x1="376.5" y1="34.06" x2="379.5" y2="34.06"/>
<line x1="624.7" y1="34.06" x2="621.7" y2="34.06"/>
<line x1="376.5" y1="25.75" x2="379.5" y2="25.75"/>
<line x1="624.7" y1="25.75" x2="621.7" y2="25.75"/>
<line x1="376.5" y1="18.54" x2="379.5" y2="18.54"/>
<line x1="624.7" y1="18.54" x2="621.7" y2="18.54"/>
<line x1="376.5" y1="12.19" x2="379.5" y2="12.19"/>
<line x1="624.7" y1="12.19" x2="621.7" y2="12.19"/>
</g>
<rect x="376.5" y="6.5" width="248.2" height="248.5" fill="none" stroke="#404040" stroke-width="1.15"/>
<g stroke="#9a9a9a" stroke-width="1.5" stroke-dasharray="2.6 1.9">
<line x1="378.5" y1="100.1" x2="514.4" y2="100.1"/>
<line x1="564" y1="100.1" x2="623.7" y2="100.1"/>
</g>
<text x="518.4" y="104.6" font-size="12" text-anchor="start" font-family='"Liberation Sans", sans-serif' font-style="normal" fill="#a8a8a8" style="stroke:#a8a8a8;stroke-width:0.12px" >0.017%</text>
<polyline points="378.98,154.10 381.46,141.00 383.95,135.80 386.43,129.40 388.91,126.40 391.39,123.20 393.87,120.50 396.36,118.20 398.84,115.40 401.32,113.90 403.80,111.80 406.28,110.00 408.77,108.90 411.25,107.70 413.73,106.30 416.21,105.40 418.69,104.60 421.18,104.00 423.66,103.10 426.14,102.60 428.62,102.10 431.10,101.60 433.59,101.09 436.07,100.59 438.55,100.09 441.03,99.64 443.51,99.25 446.00,98.86 448.48,98.47 450.96,98.08 453.44,97.69 455.92,97.31 458.41,96.92 460.89,96.53 463.37,96.15 465.85,95.77 468.33,95.39 470.82,95.03 473.30,94.77 475.78,94.50 478.26,94.23 480.74,93.97 483.23,93.70 485.71,93.43 488.19,93.17 490.67,92.90 493.15,92.64 495.64,92.37 498.12,92.10 500.60,91.82 503.08,91.47 505.56,91.12 508.05,90.77 510.53,90.43 513.01,90.08 515.49,89.73 517.97,89.38 520.46,89.04 522.94,88.69 525.42,88.34 527.90,88.00 530.38,87.65 532.87,87.28 535.35,86.92 537.83,86.56 540.31,86.20 542.79,85.66 545.28,85.11 547.76,84.57 550.24,84.02 552.72,83.48 555.20,82.91 557.69,82.20 560.17,82.90 562.65,81.00 565.13,77.90 567.61,81.00 570.10,80.00 572.58,76.10 575.06,79.60 577.54,78.70 580.02,75.70 582.51,82.40 584.99,73.20 587.47,72.80 589.95,72.30 592.43,69.40 594.92,72.10 597.40,74.60 599.88,61.20 602.36,66.50 604.84,71.40 607.33,59.70 609.81,67.40 612.29,64.40 614.77,61.60 617.25,41.80 619.74,61.60 622.22,98.50" fill="none" stroke="#111" stroke-width="2.1" stroke-linejoin="round"/>
<g fill="#111">
<circle cx="378.98" cy="154.10" r="1.85"/>
<circle cx="381.46" cy="141.00" r="1.85"/>
<circle cx="383.95" cy="135.80" r="1.85"/>
<circle cx="386.43" cy="129.40" r="1.85"/>
<circle cx="388.91" cy="126.40" r="1.85"/>
<circle cx="391.39" cy="123.20" r="1.85"/>
<circle cx="393.87" cy="120.50" r="1.85"/>
<circle cx="396.36" cy="118.20" r="1.85"/>
<circle cx="398.84" cy="115.40" r="1.85"/>
<circle cx="401.32" cy="113.90" r="1.85"/>
<circle cx="403.80" cy="111.80" r="1.85"/>
<circle cx="406.28" cy="110.00" r="1.85"/>
<circle cx="408.77" cy="108.90" r="1.85"/>
<circle cx="411.25" cy="107.70" r="1.85"/>
<circle cx="413.73" cy="106.30" r="1.85"/>
<circle cx="416.21" cy="105.40" r="1.85"/>
<circle cx="418.69" cy="104.60" r="1.85"/>
<circle cx="421.18" cy="104.00" r="1.85"/>
<circle cx="423.66" cy="103.10" r="1.85"/>
<circle cx="426.14" cy="102.60" r="1.85"/>
<circle cx="428.62" cy="102.10" r="1.85"/>
<circle cx="431.10" cy="101.60" r="1.85"/>
<circle cx="433.59" cy="101.09" r="1.85"/>
<circle cx="436.07" cy="100.59" r="1.85"/>
<circle cx="438.55" cy="100.09" r="1.85"/>
<circle cx="441.03" cy="99.64" r="1.85"/>
<circle cx="443.51" cy="99.25" r="1.85"/>
<circle cx="446.00" cy="98.86" r="1.85"/>
<circle cx="448.48" cy="98.47" r="1.85"/>
<circle cx="450.96" cy="98.08" r="1.85"/>
<circle cx="453.44" cy="97.69" r="1.85"/>
<circle cx="455.92" cy="97.31" r="1.85"/>
<circle cx="458.41" cy="96.92" r="1.85"/>
<circle cx="460.89" cy="96.53" r="1.85"/>
<circle cx="463.37" cy="96.15" r="1.85"/>
<circle cx="465.85" cy="95.77" r="1.85"/>
<circle cx="468.33" cy="95.39" r="1.85"/>
<circle cx="470.82" cy="95.03" r="1.85"/>
<circle cx="473.30" cy="94.77" r="1.85"/>
<circle cx="475.78" cy="94.50" r="1.85"/>
<circle cx="478.26" cy="94.23" r="1.85"/>
<circle cx="480.74" cy="93.97" r="1.85"/>
<circle cx="483.23" cy="93.70" r="1.85"/>
<circle cx="485.71" cy="93.43" r="1.85"/>
<circle cx="488.19" cy="93.17" r="1.85"/>
<circle cx="490.67" cy="92.90" r="1.85"/>
<circle cx="493.15" cy="92.64" r="1.85"/>
<circle cx="495.64" cy="92.37" r="1.85"/>
<circle cx="498.12" cy="92.10" r="1.85"/>
<circle cx="500.60" cy="91.82" r="1.85"/>
<circle cx="503.08" cy="91.47" r="1.85"/>
<circle cx="505.56" cy="91.12" r="1.85"/>
<circle cx="508.05" cy="90.77" r="1.85"/>
<circle cx="510.53" cy="90.43" r="1.85"/>
<circle cx="513.01" cy="90.08" r="1.85"/>
<circle cx="515.49" cy="89.73" r="1.85"/>
<circle cx="517.97" cy="89.38" r="1.85"/>
<circle cx="520.46" cy="89.04" r="1.85"/>
<circle cx="522.94" cy="88.69" r="1.85"/>
<circle cx="525.42" cy="88.34" r="1.85"/>
<circle cx="527.90" cy="88.00" r="1.85"/>
<circle cx="530.38" cy="87.65" r="1.85"/>
<circle cx="532.87" cy="87.28" r="1.85"/>
<circle cx="535.35" cy="86.92" r="1.85"/>
<circle cx="537.83" cy="86.56" r="1.85"/>
<circle cx="540.31" cy="86.20" r="1.85"/>
<circle cx="542.79" cy="85.66" r="1.85"/>
<circle cx="545.28" cy="85.11" r="1.85"/>
<circle cx="547.76" cy="84.57" r="1.85"/>
<circle cx="550.24" cy="84.02" r="1.85"/>
<circle cx="552.72" cy="83.48" r="1.85"/>
<circle cx="555.20" cy="82.91" r="1.85"/>
<circle cx="557.69" cy="82.20" r="1.85"/>
<circle cx="560.17" cy="82.90" r="1.85"/>
<circle cx="562.65" cy="81.00" r="1.85"/>
<circle cx="565.13" cy="77.90" r="1.85"/>
<circle cx="567.61" cy="81.00" r="1.85"/>
<circle cx="570.10" cy="80.00" r="1.85"/>
<circle cx="572.58" cy="76.10" r="1.85"/>
<circle cx="575.06" cy="79.60" r="1.85"/>
<circle cx="577.54" cy="78.70" r="1.85"/>
<circle cx="580.02" cy="75.70" r="1.85"/>
<circle cx="582.51" cy="82.40" r="1.85"/>
<circle cx="584.99" cy="73.20" r="1.85"/>
<circle cx="587.47" cy="72.80" r="1.85"/>
<circle cx="589.95" cy="72.30" r="1.85"/>
<circle cx="592.43" cy="69.40" r="1.85"/>
<circle cx="594.92" cy="72.10" r="1.85"/>
<circle cx="597.40" cy="74.60" r="1.85"/>
<circle cx="599.88" cy="61.20" r="1.85"/>
<circle cx="602.36" cy="66.50" r="1.85"/>
<circle cx="604.84" cy="71.40" r="1.85"/>
<circle cx="607.33" cy="59.70" r="1.85"/>
<circle cx="609.81" cy="67.40" r="1.85"/>
<circle cx="612.29" cy="64.40" r="1.85"/>
<circle cx="614.77" cy="61.60" r="1.85"/>
<circle cx="617.25" cy="41.80" r="1.85"/>
<circle cx="619.74" cy="61.60" r="1.85"/>
<circle cx="622.22" cy="98.50" r="1.85"/>
</g>
<text x="343.2" y="12.7" font-size="14" text-anchor="start" font-family='"Liberation Sans", sans-serif' font-style="normal" fill="#111" >10</text>
<text x="357.9" y="6.4" font-size="9" text-anchor="start" font-family='"Liberation Sans", sans-serif' font-style="normal" fill="#111" >−3</text>
<text x="343.2" y="137.4" font-size="14" text-anchor="start" font-family='"Liberation Sans", sans-serif' font-style="normal" fill="#111" >10</text>
<text x="357.9" y="131.4" font-size="9" text-anchor="start" font-family='"Liberation Sans", sans-serif' font-style="normal" fill="#111" >−4</text>
<text x="343.2" y="259.6" font-size="14" text-anchor="start" font-family='"Liberation Sans", sans-serif' font-style="normal" fill="#111" >10</text>
<text x="357.9" y="253.3" font-size="9" text-anchor="start" font-family='"Liberation Sans", sans-serif' font-style="normal" fill="#111" >−5</text>
<text x="376.5" y="270.8" font-size="14" text-anchor="middle" font-family='"Liberation Sans", sans-serif' font-style="normal" fill="#111" >0</text>
<text x="426.14" y="270.8" font-size="14" text-anchor="middle" font-family='"Liberation Sans", sans-serif' font-style="normal" fill="#111" >0.2</text>
<text x="475.78" y="270.8" font-size="14" text-anchor="middle" font-family='"Liberation Sans", sans-serif' font-style="normal" fill="#111" >0.4</text>
<text x="525.42" y="270.8" font-size="14" text-anchor="middle" font-family='"Liberation Sans", sans-serif' font-style="normal" fill="#111" >0.6</text>
<text x="575.06" y="270.8" font-size="14" text-anchor="middle" font-family='"Liberation Sans", sans-serif' font-style="normal" fill="#111" >0.8</text>
<text x="624.7" y="270.8" font-size="14" text-anchor="middle" font-family='"Liberation Sans", sans-serif' font-style="normal" fill="#111" >1</text>
<text x="413" y="290.8" font-size="16.65" font-family='"Liberation Sans", sans-serif' fill="#111">Inclusion area fraction, <tspan font-family='"Liberation Serif", serif' font-style="italic" font-size="18">c</tspan></text>
<text transform="translate(339.7,216.2) rotate(-90)" font-size="16.65" font-family='"Liberation Sans", sans-serif' fill="#111">Maximum relative error</text>
<text x="385.4" y="31" font-size="22" text-anchor="start" font-family='"Liberation Sans", sans-serif' font-style="normal" fill="#111" >b)</text>
<text x="591.6" y="238.8" font-size="10.5" text-anchor="end" font-family='"Liberation Sans", sans-serif' font-style="normal" fill="#111" >Eq. (6)</text>
<line x1="597.1" y1="235.8" x2="611.9" y2="235.8" stroke="#111" stroke-width="2.1"/>
<circle cx="601.3" cy="235.8" r="1.7" fill="#111"/>
<circle cx="607.5" cy="235.8" r="1.7" fill="#111"/>
<g stroke="#3a3a3a" stroke-width="1">
<line x1="88.86" y1="562.5" x2="88.86" y2="559.5"/>
<line x1="88.86" y1="314" x2="88.86" y2="317"/>
<line x1="110.71" y1="562.5" x2="110.71" y2="559.5"/>
<line x1="110.71" y1="314" x2="110.71" y2="317"/>
<line x1="126.22" y1="562.5" x2="126.22" y2="559.5"/>
<line x1="126.22" y1="314" x2="126.22" y2="317"/>
<line x1="138.24" y1="562.5" x2="138.24" y2="559.5"/>
<line x1="138.24" y1="314" x2="138.24" y2="317"/>
<line x1="148.07" y1="562.5" x2="148.07" y2="559.5"/>
<line x1="148.07" y1="314" x2="148.07" y2="317"/>
<line x1="156.38" y1="562.5" x2="156.38" y2="559.5"/>
<line x1="156.38" y1="314" x2="156.38" y2="317"/>
<line x1="163.57" y1="562.5" x2="163.57" y2="559.5"/>
<line x1="163.57" y1="314" x2="163.57" y2="317"/>
<line x1="169.92" y1="562.5" x2="169.92" y2="559.5"/>
<line x1="169.92" y1="314" x2="169.92" y2="317"/>
<line x1="175.6" y1="562.5" x2="175.6" y2="557.5"/>
<line x1="175.6" y1="314" x2="175.6" y2="319"/>
<line x1="212.96" y1="562.5" x2="212.96" y2="559.5"/>
<line x1="212.96" y1="314" x2="212.96" y2="317"/>
<line x1="234.81" y1="562.5" x2="234.81" y2="559.5"/>
<line x1="234.81" y1="314" x2="234.81" y2="317"/>
<line x1="250.32" y1="562.5" x2="250.32" y2="559.5"/>
<line x1="250.32" y1="314" x2="250.32" y2="317"/>
<line x1="262.34" y1="562.5" x2="262.34" y2="559.5"/>
<line x1="262.34" y1="314" x2="262.34" y2="317"/>
<line x1="272.17" y1="562.5" x2="272.17" y2="559.5"/>
<line x1="272.17" y1="314" x2="272.17" y2="317"/>
<line x1="280.48" y1="562.5" x2="280.48" y2="559.5"/>
<line x1="280.48" y1="314" x2="280.48" y2="317"/>
<line x1="287.67" y1="562.5" x2="287.67" y2="559.5"/>
<line x1="287.67" y1="314" x2="287.67" y2="317"/>
<line x1="294.02" y1="562.5" x2="294.02" y2="559.5"/>
<line x1="294.02" y1="314" x2="294.02" y2="317"/>
<line x1="51.5" y1="503.33" x2="56.5" y2="503.33"/>
<line x1="299.7" y1="503.33" x2="294.7" y2="503.33"/>
<line x1="51.5" y1="444.17" x2="56.5" y2="444.17"/>
<line x1="299.7" y1="444.17" x2="294.7" y2="444.17"/>
<line x1="51.5" y1="385" x2="56.5" y2="385"/>
<line x1="299.7" y1="385" x2="294.7" y2="385"/>
<line x1="51.5" y1="325.83" x2="56.5" y2="325.83"/>
<line x1="299.7" y1="325.83" x2="294.7" y2="325.83"/>
</g>
<rect x="51.5" y="314" width="248.2" height="248.5" fill="none" stroke="#404040" stroke-width="1.15"/>
<line x1="225" y1="327" x2="225" y2="562.5" stroke="#7c7c7c" stroke-width="1.3" stroke-dasharray="2.4 2.2"/>
<polyline points="51.50,325.72 88.86,322.64 110.71,318.26 126.22,320.27 138.24,321.57 148.07,319.44 156.38,321.46 163.57,321.46 169.92,321.10 175.60,321.81 180.74,321.68 185.43,321.84 189.74,321.94 193.73,322.03 197.45,322.12 200.93,322.24 204.20,322.40 207.28,322.60 210.19,322.85 212.96,323.16 215.59,323.52 218.09,323.93 220.49,324.40 222.78,324.91 224.98,325.47 227.10,326.08 229.13,326.74 231.09,327.47 232.98,328.27 234.81,329.14 236.58,330.08 238.29,331.10 239.95,332.19 241.56,333.37 243.12,334.61 244.64,335.93 246.11,337.33 247.55,338.79 248.95,340.33 250.32,341.92 251.65,343.56 252.95,345.26 254.21,346.99 255.45,348.75 256.66,350.55 257.85,352.38 259.01,354.23 260.14,356.10 261.25,357.99 262.34,359.89 263.41,361.81 264.46,363.74 265.48,365.67 266.49,367.62 267.48,369.56 268.45,371.52 269.40,373.47 270.34,375.42 271.26,377.38 272.17,379.33 273.06,381.28 273.94,383.23 274.80,385.18 275.65,387.11 276.48,389.04 277.31,390.96 278.12,392.87 278.91,394.76 279.70,396.64 280.48,398.50 281.24,400.35 281.99,402.18 282.74,403.99 283.47,405.78 284.20,407.55 284.91,409.31 285.61,411.04 286.31,412.75 287.00,414.44 287.67,416.10 288.34,417.75 289.00,419.37 289.66,420.97 290.30,422.54 290.94,424.10 291.57,425.62 292.19,427.13 292.81,428.61 293.42,430.07 294.02,431.50 294.62,432.92 295.21,434.30 295.79,435.67 296.37,437.01 296.94,438.33 297.50,439.62 298.06,440.89 298.61,442.14 299.16,443.36 299.70,444.56" fill="none" stroke="#111" stroke-width="1.1"/>
<g fill="#111">
<circle cx="51.50" cy="325.72" r="1.7"/>
<circle cx="88.86" cy="322.64" r="1.7"/>
<circle cx="110.71" cy="318.26" r="1.7"/>
<circle cx="126.22" cy="320.27" r="1.7"/>
<circle cx="138.24" cy="321.57" r="1.7"/>
<circle cx="148.07" cy="319.44" r="1.7"/>
<circle cx="156.38" cy="321.46" r="1.7"/>
<circle cx="163.57" cy="321.46" r="1.7"/>
<circle cx="169.92" cy="321.10" r="1.7"/>
<circle cx="175.60" cy="321.81" r="1.7"/>
<circle cx="180.74" cy="321.68" r="1.7"/>
<circle cx="185.43" cy="321.84" r="1.7"/>
<circle cx="189.74" cy="321.94" r="1.7"/>
<circle cx="193.73" cy="322.03" r="1.7"/>
<circle cx="197.45" cy="322.12" r="1.7"/>
<circle cx="200.93" cy="322.24" r="1.7"/>
<circle cx="204.20" cy="322.40" r="1.7"/>
<circle cx="207.28" cy="322.60" r="1.7"/>
<circle cx="210.19" cy="322.85" r="1.7"/>
<circle cx="212.96" cy="323.16" r="1.7"/>
<circle cx="215.59" cy="323.52" r="1.7"/>
<circle cx="218.09" cy="323.93" r="1.7"/>
<circle cx="220.49" cy="324.40" r="1.7"/>
<circle cx="222.78" cy="324.91" r="1.7"/>
<circle cx="224.98" cy="325.47" r="1.7"/>
<circle cx="227.10" cy="326.08" r="1.7"/>
<circle cx="229.13" cy="326.74" r="1.7"/>
<circle cx="231.09" cy="327.47" r="1.7"/>
<circle cx="232.98" cy="328.27" r="1.7"/>
<circle cx="234.81" cy="329.14" r="1.7"/>
<circle cx="236.58" cy="330.08" r="1.7"/>
<circle cx="238.29" cy="331.10" r="1.7"/>
<circle cx="239.95" cy="332.19" r="1.7"/>
<circle cx="241.56" cy="333.37" r="1.7"/>
<circle cx="243.12" cy="334.61" r="1.7"/>
<circle cx="244.64" cy="335.93" r="1.7"/>
<circle cx="246.11" cy="337.33" r="1.7"/>
<circle cx="247.55" cy="338.79" r="1.7"/>
<circle cx="248.95" cy="340.33" r="1.7"/>
<circle cx="250.32" cy="341.92" r="1.7"/>
<circle cx="251.65" cy="343.56" r="1.7"/>
<circle cx="252.95" cy="345.26" r="1.7"/>
<circle cx="254.21" cy="346.99" r="1.7"/>
<circle cx="255.45" cy="348.75" r="1.7"/>
<circle cx="256.66" cy="350.55" r="1.7"/>
<circle cx="257.85" cy="352.38" r="1.7"/>
<circle cx="259.01" cy="354.23" r="1.7"/>
<circle cx="260.14" cy="356.10" r="1.7"/>
<circle cx="261.25" cy="357.99" r="1.7"/>
<circle cx="262.34" cy="359.89" r="1.7"/>
<circle cx="263.41" cy="361.81" r="1.7"/>
<circle cx="264.46" cy="363.74" r="1.7"/>
<circle cx="265.48" cy="365.67" r="1.7"/>
<circle cx="266.49" cy="367.62" r="1.7"/>
<circle cx="267.48" cy="369.56" r="1.7"/>
<circle cx="268.45" cy="371.52" r="1.7"/>
<circle cx="269.40" cy="373.47" r="1.7"/>
<circle cx="270.34" cy="375.42" r="1.7"/>
<circle cx="271.26" cy="377.38" r="1.7"/>
<circle cx="272.17" cy="379.33" r="1.7"/>
<circle cx="273.06" cy="381.28" r="1.7"/>
<circle cx="273.94" cy="383.23" r="1.7"/>
<circle cx="274.80" cy="385.18" r="1.7"/>
<circle cx="275.65" cy="387.11" r="1.7"/>
<circle cx="276.48" cy="389.04" r="1.7"/>
<circle cx="277.31" cy="390.96" r="1.7"/>
<circle cx="278.12" cy="392.87" r="1.7"/>
<circle cx="278.91" cy="394.76" r="1.7"/>
<circle cx="279.70" cy="396.64" r="1.7"/>
<circle cx="280.48" cy="398.50" r="1.7"/>
<circle cx="281.24" cy="400.35" r="1.7"/>
<circle cx="281.99" cy="402.18" r="1.7"/>
<circle cx="282.74" cy="403.99" r="1.7"/>
<circle cx="283.47" cy="405.78" r="1.7"/>
<circle cx="284.20" cy="407.55" r="1.7"/>
<circle cx="284.91" cy="409.31" r="1.7"/>
<circle cx="285.61" cy="411.04" r="1.7"/>
<circle cx="286.31" cy="412.75" r="1.7"/>
<circle cx="287.00" cy="414.44" r="1.7"/>
<circle cx="287.67" cy="416.10" r="1.7"/>
<circle cx="288.34" cy="417.75" r="1.7"/>
<circle cx="289.00" cy="419.37" r="1.7"/>
<circle cx="289.66" cy="420.97" r="1.7"/>
<circle cx="290.30" cy="422.54" r="1.7"/>
<circle cx="290.94" cy="424.10" r="1.7"/>
<circle cx="291.57" cy="425.62" r="1.7"/>
<circle cx="292.19" cy="427.13" r="1.7"/>
<circle cx="292.81" cy="428.61" r="1.7"/>
<circle cx="293.42" cy="430.07" r="1.7"/>
<circle cx="294.02" cy="431.50" r="1.7"/>
<circle cx="294.62" cy="432.92" r="1.7"/>
<circle cx="295.21" cy="434.30" r="1.7"/>
<circle cx="295.79" cy="435.67" r="1.7"/>
<circle cx="296.37" cy="437.01" r="1.7"/>
<circle cx="296.94" cy="438.33" r="1.7"/>
<circle cx="297.50" cy="439.62" r="1.7"/>
<circle cx="298.06" cy="440.89" r="1.7"/>
<circle cx="298.61" cy="442.14" r="1.7"/>
<circle cx="299.16" cy="443.36" r="1.7"/>
<circle cx="299.70" cy="444.56" r="1.7"/>
</g>
<polyline points="51.50,560.13 88.86,557.70 110.71,555.17 126.22,552.81 138.24,550.45 148.07,547.92 156.38,545.63 163.57,543.22 169.92,540.77 175.60,538.43 180.74,536.01 185.43,533.62 189.74,531.40 193.73,529.22 197.45,526.89 200.93,524.48 204.20,522.02 207.28,519.54 210.19,517.06 212.96,514.59 215.59,512.14 218.09,509.73 220.49,507.35 222.78,505.02 224.98,502.73 227.10,500.48 229.13,498.29 231.09,496.14 232.98,494.04 234.81,491.99 236.58,489.98 238.29,488.02 239.95,486.11 241.56,484.25 243.12,482.42 244.64,480.65 246.11,478.91 247.55,477.23 248.95,475.59 250.32,474.00 251.65,472.45 252.95,470.96 254.21,469.52 255.45,468.12 256.66,466.77 257.85,465.47 259.01,464.22 260.14,463.02 261.25,461.86 262.34,460.74 263.41,459.67 264.46,458.65 265.48,457.67 266.49,456.73 267.48,455.83 268.45,454.98 269.40,454.16 270.34,453.39 271.26,452.65 272.17,451.95 273.06,451.29 273.94,450.66 274.80,450.07 275.65,449.51 276.48,448.99 277.31,448.50 278.12,448.04 278.91,447.62 279.70,447.22 280.48,446.86 281.24,446.53 281.99,446.22 282.74,445.95 283.47,445.70 284.20,445.48 284.91,445.28 285.61,445.11 286.31,444.96 287.00,444.83 287.67,444.71 288.34,444.61 289.00,444.52 289.66,444.45 290.30,444.39 290.94,444.34 291.57,444.30 292.19,444.27 292.81,444.25 293.42,444.23 294.02,444.22 294.62,444.21 295.21,444.21 295.79,444.21 296.37,444.21 296.94,444.21 297.50,444.22 298.06,444.22 298.61,444.23 299.16,444.24 299.70,444.24" fill="none" stroke="#111" stroke-width="1.1"/>
<g fill="#111">
<circle cx="51.50" cy="560.13" r="1.7"/>
<circle cx="88.86" cy="557.70" r="1.7"/>
<circle cx="110.71" cy="555.17" r="1.7"/>
<circle cx="126.22" cy="552.81" r="1.7"/>
<circle cx="138.24" cy="550.45" r="1.7"/>
<circle cx="148.07" cy="547.92" r="1.7"/>
<circle cx="156.38" cy="545.63" r="1.7"/>
<circle cx="163.57" cy="543.22" r="1.7"/>
<circle cx="169.92" cy="540.77" r="1.7"/>
<circle cx="175.60" cy="538.43" r="1.7"/>
<circle cx="180.74" cy="536.01" r="1.7"/>
<circle cx="185.43" cy="533.62" r="1.7"/>
<circle cx="189.74" cy="531.40" r="1.7"/>
<circle cx="193.73" cy="529.22" r="1.7"/>
<circle cx="197.45" cy="526.89" r="1.7"/>
<circle cx="200.93" cy="524.48" r="1.7"/>
<circle cx="204.20" cy="522.02" r="1.7"/>
<circle cx="207.28" cy="519.54" r="1.7"/>
<circle cx="210.19" cy="517.06" r="1.7"/>
<circle cx="212.96" cy="514.59" r="1.7"/>
<circle cx="215.59" cy="512.14" r="1.7"/>
<circle cx="218.09" cy="509.73" r="1.7"/>
<circle cx="220.49" cy="507.35" r="1.7"/>
<circle cx="222.78" cy="505.02" r="1.7"/>
<circle cx="224.98" cy="502.73" r="1.7"/>
<circle cx="227.10" cy="500.48" r="1.7"/>
<circle cx="229.13" cy="498.29" r="1.7"/>
<circle cx="231.09" cy="496.14" r="1.7"/>
<circle cx="232.98" cy="494.04" r="1.7"/>
<circle cx="234.81" cy="491.99" r="1.7"/>
<circle cx="236.58" cy="489.98" r="1.7"/>
<circle cx="238.29" cy="488.02" r="1.7"/>
<circle cx="239.95" cy="486.11" r="1.7"/>
<circle cx="241.56" cy="484.25" r="1.7"/>
<circle cx="243.12" cy="482.42" r="1.7"/>
<circle cx="244.64" cy="480.65" r="1.7"/>
<circle cx="246.11" cy="478.91" r="1.7"/>
<circle cx="247.55" cy="477.23" r="1.7"/>
<circle cx="248.95" cy="475.59" r="1.7"/>
<circle cx="250.32" cy="474.00" r="1.7"/>
<circle cx="251.65" cy="472.45" r="1.7"/>
<circle cx="252.95" cy="470.96" r="1.7"/>
<circle cx="254.21" cy="469.52" r="1.7"/>
<circle cx="255.45" cy="468.12" r="1.7"/>
<circle cx="256.66" cy="466.77" r="1.7"/>
<circle cx="257.85" cy="465.47" r="1.7"/>
<circle cx="259.01" cy="464.22" r="1.7"/>
<circle cx="260.14" cy="463.02" r="1.7"/>
<circle cx="261.25" cy="461.86" r="1.7"/>
<circle cx="262.34" cy="460.74" r="1.7"/>
<circle cx="263.41" cy="459.67" r="1.7"/>
<circle cx="264.46" cy="458.65" r="1.7"/>
<circle cx="265.48" cy="457.67" r="1.7"/>
<circle cx="266.49" cy="456.73" r="1.7"/>
<circle cx="267.48" cy="455.83" r="1.7"/>
<circle cx="268.45" cy="454.98" r="1.7"/>
<circle cx="269.40" cy="454.16" r="1.7"/>
<circle cx="270.34" cy="453.39" r="1.7"/>
<circle cx="271.26" cy="452.65" r="1.7"/>
<circle cx="272.17" cy="451.95" r="1.7"/>
<circle cx="273.06" cy="451.29" r="1.7"/>
<circle cx="273.94" cy="450.66" r="1.7"/>
<circle cx="274.80" cy="450.07" r="1.7"/>
<circle cx="275.65" cy="449.51" r="1.7"/>
<circle cx="276.48" cy="448.99" r="1.7"/>
<circle cx="277.31" cy="448.50" r="1.7"/>
<circle cx="278.12" cy="448.04" r="1.7"/>
<circle cx="278.91" cy="447.62" r="1.7"/>
<circle cx="279.70" cy="447.22" r="1.7"/>
<circle cx="280.48" cy="446.86" r="1.7"/>
<circle cx="281.24" cy="446.53" r="1.7"/>
<circle cx="281.99" cy="446.22" r="1.7"/>
<circle cx="282.74" cy="445.95" r="1.7"/>
<circle cx="283.47" cy="445.70" r="1.7"/>
<circle cx="284.20" cy="445.48" r="1.7"/>
<circle cx="284.91" cy="445.28" r="1.7"/>
<circle cx="285.61" cy="445.11" r="1.7"/>
<circle cx="286.31" cy="444.96" r="1.7"/>
<circle cx="287.00" cy="444.83" r="1.7"/>
<circle cx="287.67" cy="444.71" r="1.7"/>
<circle cx="288.34" cy="444.61" r="1.7"/>
<circle cx="289.00" cy="444.52" r="1.7"/>
<circle cx="289.66" cy="444.45" r="1.7"/>
<circle cx="290.30" cy="444.39" r="1.7"/>
<circle cx="290.94" cy="444.34" r="1.7"/>
<circle cx="291.57" cy="444.30" r="1.7"/>
<circle cx="292.19" cy="444.27" r="1.7"/>
<circle cx="292.81" cy="444.25" r="1.7"/>
<circle cx="293.42" cy="444.23" r="1.7"/>
<circle cx="294.02" cy="444.22" r="1.7"/>
<circle cx="294.62" cy="444.21" r="1.7"/>
<circle cx="295.21" cy="444.21" r="1.7"/>
<circle cx="295.79" cy="444.21" r="1.7"/>
<circle cx="296.37" cy="444.21" r="1.7"/>
<circle cx="296.94" cy="444.21" r="1.7"/>
<circle cx="297.50" cy="444.22" r="1.7"/>
<circle cx="298.06" cy="444.22" r="1.7"/>
<circle cx="298.61" cy="444.23" r="1.7"/>
<circle cx="299.16" cy="444.24" r="1.7"/>
<circle cx="299.70" cy="444.24" r="1.7"/>
</g>
<g stroke="#8f8f8f" stroke-width="1" fill="none">
<line x1="200.4" y1="349" x2="222.2" y2="329.2"/>
<line x1="222.2" y1="329.2" x2="216.93" y2="330.76"/>
<line x1="222.2" y1="329.2" x2="220.14" y2="334.30"/>
<line x1="201" y1="482.2" x2="222.4" y2="501.5"/>
<line x1="222.4" y1="501.5" x2="220.32" y2="496.41"/>
<line x1="222.4" y1="501.5" x2="217.12" y2="499.96"/>
<line x1="248.8" y1="539" x2="227.8" y2="558.3"/>
<line x1="227.8" y1="558.3" x2="233.07" y2="556.71"/>
<line x1="227.8" y1="558.3" x2="229.83" y2="553.19"/>
</g>
<text x="191.5" y="358.1" font-size="14" text-anchor="start" font-family='"Liberation Sans", sans-serif' font-style="normal" fill="#8a8a8a" style="stroke:#8a8a8a;stroke-width:0.12px" >2</text>
<text x="190" y="481" font-size="14" text-anchor="start" font-family='"Liberation Sans", sans-serif' font-style="normal" fill="#8a8a8a" style="stroke:#8a8a8a;stroke-width:0.12px" >1/2</text>
<text x="240.8" y="535" font-size="14" text-anchor="start" font-family='"Liberation Sans", sans-serif' font-style="normal" fill="#8a8a8a" style="stroke:#8a8a8a;stroke-width:0.12px" >1/4</text>
<text x="165.5" y="338" font-size="20" text-anchor="start" font-family='"Liberation Serif", serif' font-style="italic" fill="#111" >α</text>
<text x="157.2" y="533.2" font-size="21" text-anchor="start" font-family='"Liberation Serif", serif' font-style="italic" fill="#111" >β</text>
<text x="46.2" y="565.6" font-size="14" text-anchor="end" font-family='"Liberation Sans", sans-serif' font-style="normal" fill="#111" >0</text>
<text x="46.2" y="508" font-size="14" text-anchor="end" font-family='"Liberation Sans", sans-serif' font-style="normal" fill="#111" >0.5</text>
<text x="46.2" y="448.4" font-size="14" text-anchor="end" font-family='"Liberation Sans", sans-serif' font-style="normal" fill="#111" >1</text>
<text x="46.2" y="389.6" font-size="14" text-anchor="end" font-family='"Liberation Sans", sans-serif' font-style="normal" fill="#111" >1.5</text>
<text x="46.2" y="330.6" font-size="14" text-anchor="end" font-family='"Liberation Sans", sans-serif' font-style="normal" fill="#111" >2</text>
<text x="37.6" y="581.7" font-size="14" text-anchor="start" font-family='"Liberation Sans", sans-serif' font-style="normal" fill="#111" >10</text>
<text x="53.2" y="575.8" font-size="9" text-anchor="start" font-family='"Liberation Sans", sans-serif' font-style="normal" fill="#111" >−2</text>
<text x="163.4" y="581.5" font-size="14" text-anchor="start" font-family='"Liberation Sans", sans-serif' font-style="normal" fill="#111" >10</text>
<text x="178.5" y="575.8" font-size="9" text-anchor="start" font-family='"Liberation Sans", sans-serif' font-style="normal" fill="#111" >−1</text>
<text x="288.3" y="581.5" font-size="14" text-anchor="start" font-family='"Liberation Sans", sans-serif' font-style="normal" fill="#111" >10</text>
<text x="306.3" y="575.8" font-size="9" text-anchor="start" font-family='"Liberation Sans", sans-serif' font-style="normal" fill="#111" >0</text>
<text x="87" y="598.5" font-size="16.65" font-family='"Liberation Sans", sans-serif' fill="#111">Inclusion area fraction, <tspan font-family='"Liberation Serif", serif' font-style="italic" font-size="18">c</tspan></text>
<text transform="translate(20.8,552.4) rotate(-90)" font-size="16.65" font-family='"Liberation Sans", sans-serif' fill="#111">Best-fit parameter from Eq. (6)</text>
<text x="60.7" y="337.2" font-size="22" text-anchor="start" font-family='"Liberation Sans", sans-serif' font-style="normal" fill="#111" >c)</text>
<g stroke="#3a3a3a" stroke-width="1">
<line x1="413.86" y1="562.5" x2="413.86" y2="559.5"/>
<line x1="413.86" y1="314" x2="413.86" y2="317"/>
<line x1="376.5" y1="525.1" x2="379.5" y2="525.1"/>
<line x1="624.7" y1="525.1" x2="621.7" y2="525.1"/>
<line x1="435.71" y1="562.5" x2="435.71" y2="559.5"/>
<line x1="435.71" y1="314" x2="435.71" y2="317"/>
<line x1="376.5" y1="503.22" x2="379.5" y2="503.22"/>
<line x1="624.7" y1="503.22" x2="621.7" y2="503.22"/>
<line x1="451.22" y1="562.5" x2="451.22" y2="559.5"/>
<line x1="451.22" y1="314" x2="451.22" y2="317"/>
<line x1="376.5" y1="487.69" x2="379.5" y2="487.69"/>
<line x1="624.7" y1="487.69" x2="621.7" y2="487.69"/>
<line x1="463.24" y1="562.5" x2="463.24" y2="559.5"/>
<line x1="463.24" y1="314" x2="463.24" y2="317"/>
<line x1="376.5" y1="475.65" x2="379.5" y2="475.65"/>
<line x1="624.7" y1="475.65" x2="621.7" y2="475.65"/>
<line x1="473.07" y1="562.5" x2="473.07" y2="559.5"/>
<line x1="473.07" y1="314" x2="473.07" y2="317"/>
<line x1="376.5" y1="465.81" x2="379.5" y2="465.81"/>
<line x1="624.7" y1="465.81" x2="621.7" y2="465.81"/>
<line x1="481.38" y1="562.5" x2="481.38" y2="559.5"/>
<line x1="481.38" y1="314" x2="481.38" y2="317"/>
<line x1="376.5" y1="457.5" x2="379.5" y2="457.5"/>
<line x1="624.7" y1="457.5" x2="621.7" y2="457.5"/>
<line x1="488.57" y1="562.5" x2="488.57" y2="559.5"/>
<line x1="488.57" y1="314" x2="488.57" y2="317"/>
<line x1="376.5" y1="450.29" x2="379.5" y2="450.29"/>
<line x1="624.7" y1="450.29" x2="621.7" y2="450.29"/>
<line x1="494.92" y1="562.5" x2="494.92" y2="559.5"/>
<line x1="494.92" y1="314" x2="494.92" y2="317"/>
<line x1="376.5" y1="443.94" x2="379.5" y2="443.94"/>
<line x1="624.7" y1="443.94" x2="621.7" y2="443.94"/>
<line x1="500.6" y1="562.5" x2="500.6" y2="557.5"/>
<line x1="500.6" y1="314" x2="500.6" y2="319"/>
<line x1="376.5" y1="438.25" x2="381.5" y2="438.25"/>
<line x1="624.7" y1="438.25" x2="619.7" y2="438.25"/>
<line x1="537.96" y1="562.5" x2="537.96" y2="559.5"/>
<line x1="537.96" y1="314" x2="537.96" y2="317"/>
<line x1="376.5" y1="400.85" x2="379.5" y2="400.85"/>
<line x1="624.7" y1="400.85" x2="621.7" y2="400.85"/>
<line x1="559.81" y1="562.5" x2="559.81" y2="559.5"/>
<line x1="559.81" y1="314" x2="559.81" y2="317"/>
<line x1="376.5" y1="378.97" x2="379.5" y2="378.97"/>
<line x1="624.7" y1="378.97" x2="621.7" y2="378.97"/>
<line x1="575.32" y1="562.5" x2="575.32" y2="559.5"/>
<line x1="575.32" y1="314" x2="575.32" y2="317"/>
<line x1="376.5" y1="363.44" x2="379.5" y2="363.44"/>
<line x1="624.7" y1="363.44" x2="621.7" y2="363.44"/>
<line x1="587.34" y1="562.5" x2="587.34" y2="559.5"/>
<line x1="587.34" y1="314" x2="587.34" y2="317"/>
<line x1="376.5" y1="351.4" x2="379.5" y2="351.4"/>
<line x1="624.7" y1="351.4" x2="621.7" y2="351.4"/>
<line x1="597.17" y1="562.5" x2="597.17" y2="559.5"/>
<line x1="597.17" y1="314" x2="597.17" y2="317"/>
<line x1="376.5" y1="341.56" x2="379.5" y2="341.56"/>
<line x1="624.7" y1="341.56" x2="621.7" y2="341.56"/>
<line x1="605.48" y1="562.5" x2="605.48" y2="559.5"/>
<line x1="605.48" y1="314" x2="605.48" y2="317"/>
<line x1="376.5" y1="333.25" x2="379.5" y2="333.25"/>
<line x1="624.7" y1="333.25" x2="621.7" y2="333.25"/>
<line x1="612.67" y1="562.5" x2="612.67" y2="559.5"/>
<line x1="612.67" y1="314" x2="612.67" y2="317"/>
<line x1="376.5" y1="326.04" x2="379.5" y2="326.04"/>
<line x1="624.7" y1="326.04" x2="621.7" y2="326.04"/>
<line x1="619.02" y1="562.5" x2="619.02" y2="559.5"/>
<line x1="619.02" y1="314" x2="619.02" y2="317"/>
<line x1="376.5" y1="319.69" x2="379.5" y2="319.69"/>
<line x1="624.7" y1="319.69" x2="621.7" y2="319.69"/>
</g>
<rect x="376.5" y="314" width="248.2" height="248.5" fill="none" stroke="#404040" stroke-width="1.15"/>
<line x1="376.5" y1="562.5" x2="624.7" y2="314.0" stroke="#111" stroke-width="1.1"/>
<g fill="none" stroke="#161616" stroke-width="1.0">
<rect x="373.10" y="559.10" width="6.8" height="6.8"/>
<rect x="410.46" y="521.70" width="6.8" height="6.8"/>
<rect x="432.31" y="499.82" width="6.8" height="6.8"/>
<rect x="447.82" y="484.29" width="6.8" height="6.8"/>
<rect x="459.84" y="472.25" width="6.8" height="6.8"/>
<rect x="469.67" y="462.41" width="6.8" height="6.8"/>
<rect x="477.98" y="454.10" width="6.8" height="6.8"/>
<rect x="485.17" y="446.89" width="6.8" height="6.8"/>
<rect x="491.52" y="440.54" width="6.8" height="6.8"/>
<rect x="497.20" y="434.85" width="6.8" height="6.8"/>
<rect x="502.34" y="429.71" width="6.8" height="6.8"/>
<rect x="507.03" y="425.01" width="6.8" height="6.8"/>
<rect x="511.34" y="420.69" width="6.8" height="6.8"/>
<rect x="515.33" y="416.69" width="6.8" height="6.8"/>
<rect x="519.05" y="412.97" width="6.8" height="6.8"/>
<rect x="522.53" y="409.49" width="6.8" height="6.8"/>
<rect x="525.80" y="406.22" width="6.8" height="6.8"/>
<rect x="528.88" y="403.13" width="6.8" height="6.8"/>
<rect x="531.79" y="400.21" width="6.8" height="6.8"/>
<rect x="534.56" y="397.45" width="6.8" height="6.8"/>
<rect x="537.19" y="394.81" width="6.8" height="6.8"/>
<rect x="539.69" y="392.30" width="6.8" height="6.8"/>
<rect x="542.09" y="389.91" width="6.8" height="6.8"/>
<rect x="544.38" y="387.61" width="6.8" height="6.8"/>
<rect x="546.58" y="385.41" width="6.8" height="6.8"/>
<rect x="548.70" y="383.29" width="6.8" height="6.8"/>
<rect x="550.73" y="381.25" width="6.8" height="6.8"/>
<rect x="552.69" y="379.29" width="6.8" height="6.8"/>
<rect x="554.58" y="377.40" width="6.8" height="6.8"/>
<rect x="556.41" y="375.57" width="6.8" height="6.8"/>
<rect x="558.18" y="373.80" width="6.8" height="6.8"/>
<rect x="559.89" y="372.09" width="6.8" height="6.8"/>
<rect x="561.55" y="370.42" width="6.8" height="6.8"/>
<rect x="563.16" y="368.81" width="6.8" height="6.8"/>
<rect x="564.72" y="367.25" width="6.8" height="6.8"/>
<rect x="566.24" y="365.73" width="6.8" height="6.8"/>
<rect x="567.71" y="364.25" width="6.8" height="6.8"/>
<rect x="569.15" y="362.81" width="6.8" height="6.8"/>
<rect x="570.55" y="361.41" width="6.8" height="6.8"/>
<rect x="571.92" y="360.04" width="6.8" height="6.8"/>
<rect x="573.25" y="358.71" width="6.8" height="6.8"/>
<rect x="574.55" y="357.41" width="6.8" height="6.8"/>
<rect x="575.81" y="356.14" width="6.8" height="6.8"/>
<rect x="577.05" y="354.90" width="6.8" height="6.8"/>
<rect x="578.26" y="353.69" width="6.8" height="6.8"/>
<rect x="579.45" y="352.50" width="6.8" height="6.8"/>
<rect x="580.61" y="351.34" width="6.8" height="6.8"/>
<rect x="581.74" y="350.21" width="6.8" height="6.8"/>
<rect x="582.85" y="349.09" width="6.8" height="6.8"/>
<rect x="583.94" y="348.00" width="6.8" height="6.8"/>
<rect x="585.01" y="346.93" width="6.8" height="6.8"/>
<rect x="586.06" y="345.89" width="6.8" height="6.8"/>
<rect x="587.08" y="344.86" width="6.8" height="6.8"/>
<rect x="588.09" y="343.85" width="6.8" height="6.8"/>
<rect x="589.08" y="342.86" width="6.8" height="6.8"/>
<rect x="590.05" y="341.89" width="6.8" height="6.8"/>
<rect x="591.00" y="340.93" width="6.8" height="6.8"/>
<rect x="591.94" y="339.99" width="6.8" height="6.8"/>
<rect x="592.86" y="339.07" width="6.8" height="6.8"/>
<rect x="593.77" y="338.16" width="6.8" height="6.8"/>
<rect x="594.66" y="337.27" width="6.8" height="6.8"/>
<rect x="595.54" y="336.40" width="6.8" height="6.8"/>
<rect x="596.40" y="335.53" width="6.8" height="6.8"/>
<rect x="597.25" y="334.68" width="6.8" height="6.8"/>
<rect x="598.08" y="333.85" width="6.8" height="6.8"/>
<rect x="598.91" y="333.02" width="6.8" height="6.8"/>
<rect x="599.72" y="332.21" width="6.8" height="6.8"/>
<rect x="600.51" y="331.41" width="6.8" height="6.8"/>
<rect x="601.30" y="330.62" width="6.8" height="6.8"/>
<rect x="602.08" y="329.85" width="6.8" height="6.8"/>
<rect x="602.84" y="329.08" width="6.8" height="6.8"/>
<rect x="603.59" y="328.33" width="6.8" height="6.8"/>
<rect x="604.34" y="327.58" width="6.8" height="6.8"/>
<rect x="605.07" y="326.85" width="6.8" height="6.8"/>
<rect x="605.80" y="326.12" width="6.8" height="6.8"/>
<rect x="606.51" y="325.41" width="6.8" height="6.8"/>
<rect x="607.21" y="324.70" width="6.8" height="6.8"/>
<rect x="607.91" y="324.01" width="6.8" height="6.8"/>
<rect x="608.60" y="323.32" width="6.8" height="6.8"/>
<rect x="609.27" y="322.64" width="6.8" height="6.8"/>
<rect x="609.94" y="321.97" width="6.8" height="6.8"/>
<rect x="610.60" y="321.31" width="6.8" height="6.8"/>
<rect x="611.26" y="320.65" width="6.8" height="6.8"/>
<rect x="611.90" y="320.01" width="6.8" height="6.8"/>
<rect x="612.54" y="319.37" width="6.8" height="6.8"/>
<rect x="613.17" y="318.74" width="6.8" height="6.8"/>
<rect x="613.79" y="318.11" width="6.8" height="6.8"/>
<rect x="614.41" y="317.50" width="6.8" height="6.8"/>
<rect x="615.02" y="316.89" width="6.8" height="6.8"/>
<rect x="615.62" y="316.29" width="6.8" height="6.8"/>
<rect x="616.22" y="315.69" width="6.8" height="6.8"/>
<rect x="616.81" y="315.10" width="6.8" height="6.8"/>
<rect x="617.39" y="314.52" width="6.8" height="6.8"/>
<rect x="617.97" y="313.94" width="6.8" height="6.8"/>
<rect x="618.54" y="313.37" width="6.8" height="6.8"/>
<rect x="619.10" y="312.80" width="6.8" height="6.8"/>
<rect x="619.66" y="312.24" width="6.8" height="6.8"/>
<rect x="620.21" y="311.69" width="6.8" height="6.8"/>
<rect x="620.76" y="311.14" width="6.8" height="6.8"/>
<rect x="621.30" y="310.60" width="6.8" height="6.8"/>
</g>
<text x="345.6" y="322.1" font-size="14" text-anchor="start" font-family='"Liberation Sans", sans-serif' font-style="normal" fill="#111" >10</text>
<text x="363.6" y="316.3" font-size="9" text-anchor="start" font-family='"Liberation Sans", sans-serif' font-style="normal" fill="#111" >0</text>
<text x="343.3" y="445.3" font-size="14" text-anchor="start" font-family='"Liberation Sans", sans-serif' font-style="normal" fill="#111" >10</text>
<text x="358" y="439.3" font-size="9" text-anchor="start" font-family='"Liberation Sans", sans-serif' font-style="normal" fill="#111" >−1</text>
<text x="342.9" y="565.4" font-size="14" text-anchor="start" font-family='"Liberation Sans", sans-serif' font-style="normal" fill="#111" >10</text>
<text x="358.5" y="559.5" font-size="9" text-anchor="start" font-family='"Liberation Sans", sans-serif' font-style="normal" fill="#111" >−2</text>
<text x="363.3" y="581.5" font-size="14" text-anchor="start" font-family='"Liberation Sans", sans-serif' font-style="normal" fill="#111" >10</text>
<text x="378.5" y="575.8" font-size="9" text-anchor="start" font-family='"Liberation Sans", sans-serif' font-style="normal" fill="#111" >−2</text>
<text x="490.1" y="581.4" font-size="14" text-anchor="start" font-family='"Liberation Sans", sans-serif' font-style="normal" fill="#111" >10</text>
<text x="504.5" y="575.7" font-size="9" text-anchor="start" font-family='"Liberation Sans", sans-serif' font-style="normal" fill="#111" >−1</text>
<text x="614.8" y="581.5" font-size="14" text-anchor="start" font-family='"Liberation Sans", sans-serif' font-style="normal" fill="#111" >10</text>
<text x="632.8" y="575.8" font-size="9" text-anchor="start" font-family='"Liberation Sans", sans-serif' font-style="normal" fill="#111" >0</text>
<text x="413.2" y="598.5" font-size="16.65" font-family='"Liberation Sans", sans-serif' fill="#111">Inclusion area fraction, <tspan font-family='"Liberation Serif", serif' font-style="italic" font-size="18">c</tspan></text>
<text transform="translate(336.6,447.3) rotate(-90)" font-size="19" font-family='"Liberation Serif", serif' font-style="italic" fill="#111">β/α</text>
<text x="385.3" y="337.1" font-size="22" text-anchor="start" font-family='"Liberation Sans", sans-serif' font-style="normal" fill="#111" >d)</text>
<text x="597" y="549.8" font-size="10.5" text-anchor="end" font-family='"Liberation Sans", sans-serif' font-style="normal" fill="#111" >1:1 line</text>
<line x1="602.2" y1="546" x2="616.5" y2="546" stroke="#444" stroke-width="1.2"/>
</svg>
</body></html>
